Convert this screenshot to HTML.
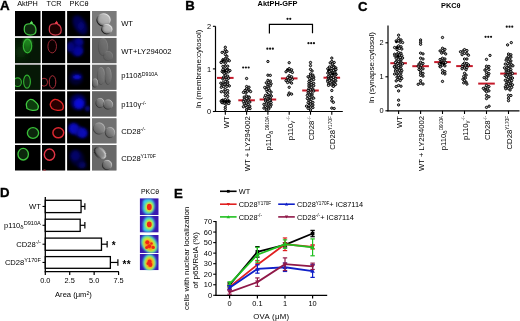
<!DOCTYPE html>
<html><head><meta charset="utf-8"><title>Figure</title>
<style>
html,body{margin:0;padding:0;background:#fff;}
body{width:520px;height:321px;overflow:hidden;}
svg{display:block;will-change:transform;font-family:"Liberation Sans", sans-serif;}
</style></head><body>
<svg width="520" height="321" viewBox="0 0 520 321">
<rect width="520" height="321" fill="#fff"/>
<text x="0.10" y="9.70" font-size="13.4" text-anchor="start" font-weight="bold" fill="#000" stroke="#000" stroke-width="0.35">A</text>
<text x="185.30" y="9.70" font-size="13.2" text-anchor="start" font-weight="bold" fill="#000" stroke="#000" stroke-width="0.35">B</text>
<text x="358.00" y="10.50" font-size="13.2" text-anchor="start" font-weight="bold" fill="#000" stroke="#000" stroke-width="0.35">C</text>
<text x="0.10" y="197.20" font-size="13.2" text-anchor="start" font-weight="bold" fill="#000" stroke="#000" stroke-width="0.35">D</text>
<text x="173.90" y="197.70" font-size="13.2" text-anchor="start" font-weight="bold" fill="#000" stroke="#000" stroke-width="0.35">E</text>
<text x="17.20" y="6.30" font-size="7.3" text-anchor="start" fill="#000">AktPH</text>
<text x="46.60" y="6.30" font-size="7.3" text-anchor="start" fill="#000">TCR</text>
<text x="69.60" y="6.30" font-size="7.3" text-anchor="start" fill="#000">PKC&#952;</text>
<defs><filter id="b1" x="-50%" y="-50%" width="200%" height="200%"><feGaussianBlur stdDeviation="0.45"/></filter><filter id="b2" x="-50%" y="-50%" width="200%" height="200%"><feGaussianBlur stdDeviation="1.6"/></filter><filter id="b3" x="-50%" y="-50%" width="200%" height="200%"><feGaussianBlur stdDeviation="3"/></filter><filter id="b4" x="-50%" y="-50%" width="200%" height="200%"><feGaussianBlur stdDeviation="0.9"/></filter><filter id="b5" x="-50%" y="-50%" width="200%" height="200%"><feGaussianBlur stdDeviation="0.45"/></filter><linearGradient id="dicg" x1="1" y1="0" x2="0" y2="1"><stop offset="0" stop-color="#ffffff" stop-opacity="0.95"/><stop offset="0.45" stop-color="#c0c0c0" stop-opacity="0.5"/><stop offset="0.6" stop-color="#606060" stop-opacity="0.4"/><stop offset="1" stop-color="#000000" stop-opacity="0.95"/></linearGradient><linearGradient id="dics" x1="1" y1="0" x2="0" y2="1"><stop offset="0" stop-color="#ffffff" stop-opacity="0.9"/><stop offset="0.4" stop-color="#ffffff" stop-opacity="0.2"/><stop offset="0.55" stop-color="#000" stop-opacity="0.2"/><stop offset="1" stop-color="#000" stop-opacity="1"/></linearGradient></defs>
<clipPath id="c00"><rect x="15" y="11" width="25.50" height="25.20"/></clipPath>
<rect x="15" y="11" width="25.50" height="25.20" fill="#000"/>
<clipPath id="c01"><rect x="42" y="11" width="23.20" height="25.20"/></clipPath>
<rect x="42" y="11" width="23.20" height="25.20" fill="#000"/>
<clipPath id="c02"><rect x="67.1" y="11" width="23.00" height="25.20"/></clipPath>
<rect x="67.1" y="11" width="23.00" height="25.20" fill="#000"/>
<clipPath id="c03"><rect x="92" y="11" width="24.50" height="25.20"/></clipPath>
<rect x="92" y="11" width="24.50" height="25.20" fill="#7e7e7e"/>
<clipPath id="c10"><rect x="15" y="37.9" width="25.50" height="25.30"/></clipPath>
<rect x="15" y="37.9" width="25.50" height="25.30" fill="#000"/>
<clipPath id="c11"><rect x="42" y="37.9" width="23.20" height="25.30"/></clipPath>
<rect x="42" y="37.9" width="23.20" height="25.30" fill="#000"/>
<clipPath id="c12"><rect x="67.1" y="37.9" width="23.00" height="25.30"/></clipPath>
<rect x="67.1" y="37.9" width="23.00" height="25.30" fill="#000"/>
<clipPath id="c13"><rect x="92" y="37.9" width="24.50" height="25.30"/></clipPath>
<rect x="92" y="37.9" width="24.50" height="25.30" fill="#7e7e7e"/>
<clipPath id="c20"><rect x="15" y="64.7" width="25.50" height="25.10"/></clipPath>
<rect x="15" y="64.7" width="25.50" height="25.10" fill="#000"/>
<clipPath id="c21"><rect x="42" y="64.7" width="23.20" height="25.10"/></clipPath>
<rect x="42" y="64.7" width="23.20" height="25.10" fill="#000"/>
<clipPath id="c22"><rect x="67.1" y="64.7" width="23.00" height="25.10"/></clipPath>
<rect x="67.1" y="64.7" width="23.00" height="25.10" fill="#000"/>
<clipPath id="c23"><rect x="92" y="64.7" width="24.50" height="25.10"/></clipPath>
<rect x="92" y="64.7" width="24.50" height="25.10" fill="#7e7e7e"/>
<clipPath id="c30"><rect x="15" y="91.3" width="25.50" height="25.30"/></clipPath>
<rect x="15" y="91.3" width="25.50" height="25.30" fill="#000"/>
<clipPath id="c31"><rect x="42" y="91.3" width="23.20" height="25.30"/></clipPath>
<rect x="42" y="91.3" width="23.20" height="25.30" fill="#000"/>
<clipPath id="c32"><rect x="67.1" y="91.3" width="23.00" height="25.30"/></clipPath>
<rect x="67.1" y="91.3" width="23.00" height="25.30" fill="#000"/>
<clipPath id="c33"><rect x="92" y="91.3" width="24.50" height="25.30"/></clipPath>
<rect x="92" y="91.3" width="24.50" height="25.30" fill="#7e7e7e"/>
<clipPath id="c40"><rect x="15" y="118.3" width="25.50" height="25.10"/></clipPath>
<rect x="15" y="118.3" width="25.50" height="25.10" fill="#000"/>
<clipPath id="c41"><rect x="42" y="118.3" width="23.20" height="25.10"/></clipPath>
<rect x="42" y="118.3" width="23.20" height="25.10" fill="#000"/>
<clipPath id="c42"><rect x="67.1" y="118.3" width="23.00" height="25.10"/></clipPath>
<rect x="67.1" y="118.3" width="23.00" height="25.10" fill="#000"/>
<clipPath id="c43"><rect x="92" y="118.3" width="24.50" height="25.10"/></clipPath>
<rect x="92" y="118.3" width="24.50" height="25.10" fill="#7e7e7e"/>
<clipPath id="c50"><rect x="15" y="145" width="25.50" height="25.50"/></clipPath>
<rect x="15" y="145" width="25.50" height="25.50" fill="#000"/>
<clipPath id="c51"><rect x="42" y="145" width="23.20" height="25.50"/></clipPath>
<rect x="42" y="145" width="23.20" height="25.50" fill="#000"/>
<clipPath id="c52"><rect x="67.1" y="145" width="23.00" height="25.50"/></clipPath>
<rect x="67.1" y="145" width="23.00" height="25.50" fill="#000"/>
<clipPath id="c53"><rect x="92" y="145" width="24.50" height="25.50"/></clipPath>
<rect x="92" y="145" width="24.50" height="25.50" fill="#7e7e7e"/>
<g clip-path="url(#c00)">
<path d="M24.3,28.5 C24.3,25.5 25.8,24 28.5,23.9 L30.6,23.6 L31.6,21.9 L32.6,24.1 C35,25.2 36,27.6 36,30.2 C36,33.2 33.8,35 30.3,35 C26.8,35 24.3,33 24.3,30 Z" fill="#0a2c0a" stroke="#44c444" stroke-width="1.25" filter="url(#b1)"/>
<ellipse cx="31.4" cy="23.0" rx="1.2" ry="1.3" transform="rotate(0 31.4 23.0)" fill="#60e060" filter="url(#b1)"/>
</g>
<g clip-path="url(#c10)">
<rect x="15" y="37.9" width="25.5" height="25.3" fill="#061806"/>
<ellipse cx="21.0" cy="52.0" rx="5" ry="6" transform="rotate(0 21.0 52.0)" fill="#104010" opacity="0.8" filter="url(#b3)"/>
<ellipse cx="27.5" cy="42.5" rx="3.8" ry="3.8" transform="rotate(0 27.5 42.5)" fill="#38b838" opacity="0.9" filter="url(#b2)"/>
<ellipse cx="27.5" cy="46.0" rx="4.2" ry="6.8" transform="rotate(0 27.5 46.0)" fill="#1a7a1a" fill-opacity="0.85" filter="url(#b4)"/>
<ellipse cx="27.5" cy="46.0" rx="4.2" ry="6.8" transform="rotate(0 27.5 46.0)" fill="none" stroke="#38c038" stroke-opacity="0.90" stroke-width="1.17" filter="url(#b1)"/>
</g>
<g clip-path="url(#c20)">
<rect x="15" y="64.7" width="25.5" height="25.1" fill="#061806"/>
<ellipse cx="17.6" cy="82.2" rx="3.8" ry="4.3" transform="rotate(0 17.6 82.2)" fill="#0c3a0c" fill-opacity="0.70" filter="url(#b4)"/>
<ellipse cx="17.6" cy="82.2" rx="3.8" ry="4.3" transform="rotate(0 17.6 82.2)" fill="none" stroke="#34b834" stroke-opacity="0.90" stroke-width="1.17" filter="url(#b1)"/>
<ellipse cx="27.0" cy="81.7" rx="3.4" ry="6.5" transform="rotate(0 27.0 81.7)" fill="#0c3a0c" fill-opacity="0.70" filter="url(#b4)"/>
<ellipse cx="27.0" cy="81.7" rx="3.4" ry="6.5" transform="rotate(0 27.0 81.7)" fill="none" stroke="#34b834" stroke-opacity="0.90" stroke-width="1.17" filter="url(#b1)"/>
</g>
<g clip-path="url(#c30)">
<path d="M26.5,106 C25.5,103 28,100 30,99.5 C33,99 34,100.5 35.5,102 C38,104 39,107 37.5,109.5 C35,111 30,110.5 27,108.5 Z" fill="#0c3a0c" stroke="#40c840" stroke-width="1.25" filter="url(#b1)"/>
</g>
<g clip-path="url(#c40)">
<ellipse cx="33.0" cy="133.0" rx="5.6" ry="5.4" transform="rotate(0 33.0 133.0)" fill="#0a300a" fill-opacity="0.85" filter="url(#b4)"/>
<ellipse cx="33.0" cy="133.0" rx="5.6" ry="5.4" transform="rotate(0 33.0 133.0)" fill="none" stroke="#3cc83c" stroke-opacity="0.95" stroke-width="1.33" filter="url(#b1)"/>
</g>
<g clip-path="url(#c50)">
<ellipse cx="23.2" cy="154.2" rx="5.2" ry="5.8" transform="rotate(0 23.2 154.2)" fill="#0a300a" fill-opacity="0.85" filter="url(#b4)"/>
<ellipse cx="23.2" cy="154.2" rx="5.2" ry="5.8" transform="rotate(0 23.2 154.2)" fill="none" stroke="#40cc40" stroke-opacity="0.95" stroke-width="1.33" filter="url(#b1)"/>
</g>
<g clip-path="url(#c01)">
<path d="M49.3,28.5 C49.3,25.5 50.8,24 53.5,23.9 L55.6,23.6 L56.6,21.9 L57.6,24.1 C60,25.2 61.2,27.6 61.2,30.2 C61.2,33.2 59,35 55.3,35 C51.8,35 49.3,33 49.3,30 Z" fill="#1c0406" stroke="#d03848" stroke-width="1.25" filter="url(#b1)"/>
<ellipse cx="56.4" cy="23.0" rx="1.2" ry="1.3" transform="rotate(0 56.4 23.0)" fill="#f04050" filter="url(#b1)"/>
</g>
<g clip-path="url(#c11)">
<ellipse cx="52.2" cy="46.3" rx="4.3" ry="6.6" transform="rotate(0 52.2 46.3)" fill="#1a0303" fill-opacity="0.50" filter="url(#b4)"/>
<ellipse cx="52.2" cy="46.3" rx="4.3" ry="6.6" transform="rotate(0 52.2 46.3)" fill="none" stroke="#b83040" stroke-opacity="0.85" stroke-width="0.95" filter="url(#b1)"/>
</g>
<g clip-path="url(#c21)">
<ellipse cx="44.0" cy="82.2" rx="3.6" ry="4.0" transform="rotate(0 44.0 82.2)" fill="none" stroke="#b83038" stroke-opacity="0.90" stroke-width="0.95" filter="url(#b1)"/>
<ellipse cx="52.5" cy="82.0" rx="3.3" ry="6.3" transform="rotate(0 52.5 82.0)" fill="none" stroke="#c03440" stroke-opacity="0.95" stroke-width="0.95" filter="url(#b1)"/>
</g>
<g clip-path="url(#c31)">
<path d="M50.5,106 C49.5,103 52,100 54.5,99.5 C57.5,99 59,100.5 61,102 C63.5,104 64,107.5 62.5,109.5 C60,111 55,110.5 52,108.5 Z" fill="#2a0404" stroke="#e02424" stroke-width="1.35" filter="url(#b1)"/>
</g>
<g clip-path="url(#c41)">
<ellipse cx="58.3" cy="132.8" rx="5.4" ry="5.0" transform="rotate(0 58.3 132.8)" fill="#2a0303" fill-opacity="0.60" filter="url(#b4)"/>
<ellipse cx="58.3" cy="132.8" rx="5.4" ry="5.0" transform="rotate(0 58.3 132.8)" fill="none" stroke="#dc2830" stroke-opacity="1.00" stroke-width="1.48" filter="url(#b1)"/>
</g>
<g clip-path="url(#c51)">
<ellipse cx="49.5" cy="154.6" rx="5.2" ry="5.6" transform="rotate(0 49.5 154.6)" fill="#200303" fill-opacity="0.50" filter="url(#b4)"/>
<ellipse cx="49.5" cy="154.6" rx="5.2" ry="5.6" transform="rotate(0 49.5 154.6)" fill="none" stroke="#e03444" stroke-opacity="1.00" stroke-width="1.45" filter="url(#b1)"/>
<ellipse cx="44.5" cy="170.5" rx="1.5" ry="1" transform="rotate(0 44.5 170.5)" fill="#c03040" filter="url(#b1)"/>
</g>
<g clip-path="url(#c02)">
<ellipse cx="80.0" cy="25.0" rx="6" ry="10.5" transform="rotate(-30 80.0 25.0)" fill="#05056e" opacity="0.76" filter="url(#b2)"/>
<ellipse cx="81.0" cy="26.0" rx="3" ry="4" transform="rotate(0 81.0 26.0)" fill="#09099e" opacity="0.48" filter="url(#b2)"/>
</g>
<g clip-path="url(#c12)">
<ellipse cx="78.0" cy="51.0" rx="5" ry="5" transform="rotate(0 78.0 51.0)" fill="#0c0cdc" opacity="0.80" filter="url(#b2)"/>
<ellipse cx="79.0" cy="42.0" rx="4.5" ry="4" transform="rotate(0 79.0 42.0)" fill="#0909c1" opacity="0.72" filter="url(#b2)"/>
<ellipse cx="70.5" cy="47.0" rx="4" ry="5" transform="rotate(0 70.5 47.0)" fill="#0909b0" opacity="0.68" filter="url(#b2)"/>
<ellipse cx="76.0" cy="47.0" rx="7" ry="9" transform="rotate(0 76.0 47.0)" fill="#060686" opacity="0.56" filter="url(#b2)"/>
</g>
<g clip-path="url(#c22)">
<ellipse cx="76.0" cy="78.0" rx="7" ry="7" transform="rotate(0 76.0 78.0)" fill="#040458" opacity="0.56" filter="url(#b2)"/>
<ellipse cx="77.0" cy="77.0" rx="4.5" ry="1.8" transform="rotate(0 77.0 77.0)" fill="#1010ff" opacity="0.80" filter="url(#b2)"/>
<ellipse cx="77.0" cy="77.0" rx="3" ry="1.2" transform="rotate(0 77.0 77.0)" fill="#1414ff" opacity="0.80" filter="url(#b2)"/>
</g>
<g clip-path="url(#c32)">
<ellipse cx="78.0" cy="102.0" rx="8" ry="8" transform="rotate(0 78.0 102.0)" fill="#06068a" opacity="0.64" filter="url(#b2)"/>
<ellipse cx="79.0" cy="103.5" rx="5.2" ry="5.2" transform="rotate(0 79.0 103.5)" fill="#1010f8" opacity="0.80" filter="url(#b2)"/>
<ellipse cx="87.5" cy="108.5" rx="2.5" ry="2.5" transform="rotate(0 87.5 108.5)" fill="#0c0cd0" opacity="0.72" filter="url(#b2)"/>
</g>
<g clip-path="url(#c42)">
<ellipse cx="73.5" cy="128.5" rx="5" ry="5.5" transform="rotate(0 73.5 128.5)" fill="#0e0ef6" opacity="0.80" filter="url(#b2)"/>
<ellipse cx="82.5" cy="133.0" rx="5" ry="5" transform="rotate(0 82.5 133.0)" fill="#0e0eed" opacity="0.80" filter="url(#b2)"/>
<ellipse cx="78.0" cy="131.0" rx="9" ry="5" transform="rotate(30 78.0 131.0)" fill="#0808b0" opacity="0.64" filter="url(#b2)"/>
</g>
<g clip-path="url(#c52)">
<ellipse cx="75.5" cy="156.0" rx="4.5" ry="5" transform="rotate(0 75.5 156.0)" fill="#0909c1" opacity="0.68" filter="url(#b2)"/>
<ellipse cx="82.0" cy="165.0" rx="4" ry="3.5" transform="rotate(0 82.0 165.0)" fill="#07079c" opacity="0.64" filter="url(#b2)"/>
<ellipse cx="77.0" cy="158.0" rx="7" ry="9" transform="rotate(-30 77.0 158.0)" fill="#040458" opacity="0.56" filter="url(#b2)"/>
</g>
<g clip-path="url(#c03)">
<rect x="92" y="11" width="24.50" height="25.20" fill="#7a7a7a"/>
<ellipse cx="103.5" cy="19.9" rx="7" ry="6.5" transform="rotate(0 103.5 19.9)" fill="url(#dicg)" opacity="1.00" filter="url(#b5)"/>
<ellipse cx="103.8" cy="19.6" rx="5.8" ry="5.3" transform="rotate(0 103.8 19.6)" fill="#b8b8b8" fill-opacity="0.80" filter="url(#b4)"/>
<ellipse cx="103.5" cy="19.9" rx="6.7" ry="6.2" transform="rotate(0 103.5 19.9)" fill="none" stroke="url(#dics)" stroke-width="1.0" opacity="1.00" filter="url(#b5)"/>
<ellipse cx="106.8" cy="29.2" rx="5.5" ry="5" transform="rotate(0 106.8 29.2)" fill="url(#dicg)" opacity="1.00" filter="url(#b5)"/>
<ellipse cx="107.1" cy="28.9" rx="4.3" ry="3.8" transform="rotate(0 107.1 28.9)" fill="#b8b8b8" fill-opacity="0.80" filter="url(#b4)"/>
<ellipse cx="106.8" cy="29.2" rx="5.2" ry="4.7" transform="rotate(0 106.8 29.2)" fill="none" stroke="url(#dics)" stroke-width="1.0" opacity="1.00" filter="url(#b5)"/>
</g>
<g clip-path="url(#c13)">
<rect x="92" y="37.9" width="24.50" height="25.30" fill="#626262"/>
<ellipse cx="103.0" cy="47.0" rx="5" ry="9" transform="rotate(0 103.0 47.0)" fill="url(#dicg)" opacity="0.15" filter="url(#b5)"/>
<ellipse cx="103.3" cy="46.7" rx="3.8" ry="7.8" transform="rotate(0 103.3 46.7)" fill="#808080" fill-opacity="0.12" filter="url(#b4)"/>
<ellipse cx="103.0" cy="47.0" rx="4.7" ry="8.7" transform="rotate(0 103.0 47.0)" fill="none" stroke="url(#dics)" stroke-width="1.0" opacity="0.15" filter="url(#b5)"/>
<ellipse cx="108.0" cy="56.0" rx="5" ry="5" transform="rotate(0 108.0 56.0)" fill="url(#dicg)" opacity="0.15" filter="url(#b5)"/>
<ellipse cx="108.3" cy="55.7" rx="3.8" ry="3.8" transform="rotate(0 108.3 55.7)" fill="#808080" fill-opacity="0.12" filter="url(#b4)"/>
<ellipse cx="108.0" cy="56.0" rx="4.7" ry="4.7" transform="rotate(0 108.0 56.0)" fill="none" stroke="url(#dics)" stroke-width="1.0" opacity="0.15" filter="url(#b5)"/>
</g>
<g clip-path="url(#c23)">
<rect x="92" y="64.7" width="24.50" height="25.10" fill="#666666"/>
<ellipse cx="101.0" cy="76.0" rx="4" ry="9" transform="rotate(0 101.0 76.0)" fill="url(#dicg)" opacity="0.22" filter="url(#b5)"/>
<ellipse cx="101.3" cy="75.7" rx="2.8" ry="7.8" transform="rotate(0 101.3 75.7)" fill="#808080" fill-opacity="0.18" filter="url(#b4)"/>
<ellipse cx="101.0" cy="76.0" rx="3.7" ry="8.7" transform="rotate(0 101.0 76.0)" fill="none" stroke="url(#dics)" stroke-width="1.0" opacity="0.22" filter="url(#b5)"/>
<ellipse cx="108.0" cy="76.0" rx="3.5" ry="9" transform="rotate(0 108.0 76.0)" fill="url(#dicg)" opacity="0.22" filter="url(#b5)"/>
<ellipse cx="108.3" cy="75.7" rx="2.3" ry="7.8" transform="rotate(0 108.3 75.7)" fill="#808080" fill-opacity="0.18" filter="url(#b4)"/>
<ellipse cx="108.0" cy="76.0" rx="3.2" ry="8.7" transform="rotate(0 108.0 76.0)" fill="none" stroke="url(#dics)" stroke-width="1.0" opacity="0.22" filter="url(#b5)"/>
<ellipse cx="95.0" cy="83.0" rx="3" ry="4.5" transform="rotate(0 95.0 83.0)" fill="url(#dicg)" opacity="0.40" filter="url(#b5)"/>
<ellipse cx="95.3" cy="82.7" rx="1.8" ry="3.3" transform="rotate(0 95.3 82.7)" fill="#808080" fill-opacity="0.32" filter="url(#b4)"/>
<ellipse cx="95.0" cy="83.0" rx="2.7" ry="4.2" transform="rotate(0 95.0 83.0)" fill="none" stroke="url(#dics)" stroke-width="1.0" opacity="0.40" filter="url(#b5)"/>
</g>
<g clip-path="url(#c33)">
<rect x="92" y="91.3" width="24.50" height="25.30" fill="#656565"/>
<ellipse cx="100.0" cy="103.0" rx="4.5" ry="5" transform="rotate(0 100.0 103.0)" fill="url(#dicg)" opacity="0.50" filter="url(#b5)"/>
<ellipse cx="100.3" cy="102.7" rx="3.3" ry="3.8" transform="rotate(0 100.3 102.7)" fill="#808080" fill-opacity="0.40" filter="url(#b4)"/>
<ellipse cx="100.0" cy="103.0" rx="4.2" ry="4.7" transform="rotate(0 100.0 103.0)" fill="none" stroke="url(#dics)" stroke-width="1.0" opacity="0.50" filter="url(#b5)"/>
<ellipse cx="108.0" cy="104.5" rx="5" ry="5" transform="rotate(0 108.0 104.5)" fill="url(#dicg)" opacity="0.50" filter="url(#b5)"/>
<ellipse cx="108.3" cy="104.2" rx="3.8" ry="3.8" transform="rotate(0 108.3 104.2)" fill="#808080" fill-opacity="0.40" filter="url(#b4)"/>
<ellipse cx="108.0" cy="104.5" rx="4.7" ry="4.7" transform="rotate(0 108.0 104.5)" fill="none" stroke="url(#dics)" stroke-width="1.0" opacity="0.50" filter="url(#b5)"/>
</g>
<g clip-path="url(#c43)">
<rect x="92" y="118.3" width="24.50" height="25.10" fill="#707070"/>
<ellipse cx="99.0" cy="128.5" rx="6" ry="6" transform="rotate(0 99.0 128.5)" fill="url(#dicg)" opacity="0.45" filter="url(#b5)"/>
<ellipse cx="99.3" cy="128.2" rx="4.8" ry="4.8" transform="rotate(0 99.3 128.2)" fill="#808080" fill-opacity="0.36" filter="url(#b4)"/>
<ellipse cx="99.0" cy="128.5" rx="5.7" ry="5.7" transform="rotate(0 99.0 128.5)" fill="none" stroke="url(#dics)" stroke-width="1.0" opacity="0.45" filter="url(#b5)"/>
<ellipse cx="110.0" cy="132.5" rx="5" ry="5.5" transform="rotate(0 110.0 132.5)" fill="url(#dicg)" opacity="0.50" filter="url(#b5)"/>
<ellipse cx="110.3" cy="132.2" rx="3.8" ry="4.3" transform="rotate(0 110.3 132.2)" fill="#808080" fill-opacity="0.40" filter="url(#b4)"/>
<ellipse cx="110.0" cy="132.5" rx="4.7" ry="5.2" transform="rotate(0 110.0 132.5)" fill="none" stroke="url(#dics)" stroke-width="1.0" opacity="0.50" filter="url(#b5)"/>
</g>
<g clip-path="url(#c53)">
<rect x="92" y="145" width="24.50" height="25.50" fill="#686868"/>
<ellipse cx="100.0" cy="153.0" rx="7" ry="4.5" transform="rotate(45 100.0 153.0)" fill="url(#dicg)" opacity="1.00" filter="url(#b5)"/>
<ellipse cx="100.3" cy="152.7" rx="5.8" ry="3.3" transform="rotate(45 100.3 152.7)" fill="#808080" fill-opacity="0.80" filter="url(#b4)"/>
<ellipse cx="100.0" cy="153.0" rx="6.7" ry="4.2" transform="rotate(45 100.0 153.0)" fill="none" stroke="url(#dics)" stroke-width="1.0" opacity="1.00" filter="url(#b5)"/>
<ellipse cx="107.0" cy="165.0" rx="5" ry="5" transform="rotate(0 107.0 165.0)" fill="url(#dicg)" opacity="0.70" filter="url(#b5)"/>
<ellipse cx="107.3" cy="164.7" rx="3.8" ry="3.8" transform="rotate(0 107.3 164.7)" fill="#808080" fill-opacity="0.56" filter="url(#b4)"/>
<ellipse cx="107.0" cy="165.0" rx="4.7" ry="4.7" transform="rotate(0 107.0 165.0)" fill="none" stroke="url(#dics)" stroke-width="1.0" opacity="0.70" filter="url(#b5)"/>
</g>
<text x="121.20" y="26.30" font-size="7.6" text-anchor="start" fill="#000">WT</text>
<text x="121.20" y="53.90" font-size="7.6" text-anchor="start" fill="#000">WT+LY294002</text>
<text x="121.20" y="78.10" font-size="7.6" text-anchor="start" fill="#000">p110&#948;<tspan dy="-2.5" font-size="5.2">D910A</tspan></text>
<text x="121.20" y="107.00" font-size="7.6" text-anchor="start" fill="#000">p110&#947;<tspan dy="-2.5" font-size="5.2">-/-</tspan></text>
<text x="121.20" y="133.90" font-size="7.6" text-anchor="start" fill="#000">CD28<tspan dy="-2.5" font-size="5.2">-/-</tspan></text>
<text x="121.20" y="160.60" font-size="7.6" text-anchor="start" fill="#000">CD28<tspan dy="-2.5" font-size="5.2">Y170F</tspan></text>
<text x="257.60" y="6.20" font-size="7.4" text-anchor="start" font-weight="bold" fill="#000">AktPH-GFP</text>
<text x="0.00" y="0.00" font-size="7.95" text-anchor="middle" fill="#000" transform="translate(201.40,68.80) rotate(-90)">ln (membrane:cytosol)</text>
<line x1="215.50" y1="26.30" x2="215.50" y2="112.00" stroke="#000" stroke-width="1.2"/>
<line x1="214.90" y1="111.50" x2="342.80" y2="111.50" stroke="#000" stroke-width="1.2"/>
<line x1="212.90" y1="111.50" x2="215.50" y2="111.50" stroke="#000" stroke-width="1.1"/>
<text x="211.20" y="114.10" font-size="7.4" text-anchor="end" fill="#000">0</text>
<line x1="212.90" y1="68.90" x2="215.50" y2="68.90" stroke="#000" stroke-width="1.1"/>
<text x="211.20" y="71.50" font-size="7.4" text-anchor="end" fill="#000">1</text>
<line x1="212.90" y1="26.30" x2="215.50" y2="26.30" stroke="#000" stroke-width="1.1"/>
<text x="211.20" y="28.90" font-size="7.4" text-anchor="end" fill="#000">2</text>
<line x1="217.00" y1="77.90" x2="233.60" y2="77.90" stroke="#c41a2a" stroke-width="2.0"/>
<line x1="238.30" y1="100.30" x2="254.90" y2="100.30" stroke="#c41a2a" stroke-width="2.0"/>
<line x1="259.60" y1="99.50" x2="276.20" y2="99.50" stroke="#c41a2a" stroke-width="2.0"/>
<line x1="280.90" y1="78.40" x2="297.50" y2="78.40" stroke="#c41a2a" stroke-width="2.0"/>
<line x1="302.20" y1="90.50" x2="318.80" y2="90.50" stroke="#c41a2a" stroke-width="2.0"/>
<line x1="323.50" y1="77.70" x2="340.10" y2="77.70" stroke="#c41a2a" stroke-width="2.0"/>
<circle cx="225.30" cy="47.25" r="1.15" fill="#c4c4c4" stroke="#000" stroke-width="1.0"/>
<circle cx="225.30" cy="49.75" r="1.15" fill="#c4c4c4" stroke="#000" stroke-width="1.0"/>
<circle cx="226.90" cy="51.61" r="1.15" fill="#c4c4c4" stroke="#000" stroke-width="1.0"/>
<circle cx="224.50" cy="51.88" r="1.15" fill="#c4c4c4" stroke="#000" stroke-width="1.0"/>
<circle cx="222.10" cy="52.38" r="1.15" fill="#c4c4c4" stroke="#000" stroke-width="1.0"/>
<circle cx="225.30" cy="54.50" r="1.15" fill="#c4c4c4" stroke="#000" stroke-width="1.0"/>
<circle cx="226.90" cy="56.25" r="1.15" fill="#c4c4c4" stroke="#000" stroke-width="1.0"/>
<circle cx="225.30" cy="58.54" r="1.15" fill="#c4c4c4" stroke="#000" stroke-width="1.0"/>
<circle cx="227.70" cy="59.27" r="1.15" fill="#c4c4c4" stroke="#000" stroke-width="1.0"/>
<circle cx="222.90" cy="59.68" r="1.15" fill="#c4c4c4" stroke="#000" stroke-width="1.0"/>
<circle cx="225.06" cy="60.03" r="1.15" fill="#c4c4c4" stroke="#000" stroke-width="1.0"/>
<circle cx="229.30" cy="60.75" r="1.15" fill="#c4c4c4" stroke="#000" stroke-width="1.0"/>
<circle cx="226.84" cy="61.02" r="1.15" fill="#c4c4c4" stroke="#000" stroke-width="1.0"/>
<circle cx="223.70" cy="61.72" r="1.15" fill="#c4c4c4" stroke="#000" stroke-width="1.0"/>
<circle cx="221.30" cy="62.03" r="1.15" fill="#c4c4c4" stroke="#000" stroke-width="1.0"/>
<circle cx="221.17" cy="62.55" r="1.15" fill="#c4c4c4" stroke="#000" stroke-width="1.0"/>
<circle cx="225.30" cy="63.21" r="1.15" fill="#c4c4c4" stroke="#000" stroke-width="1.0"/>
<circle cx="225.30" cy="66.14" r="1.15" fill="#c4c4c4" stroke="#000" stroke-width="1.0"/>
<circle cx="227.70" cy="66.19" r="1.15" fill="#c4c4c4" stroke="#000" stroke-width="1.0"/>
<circle cx="222.90" cy="66.37" r="1.15" fill="#c4c4c4" stroke="#000" stroke-width="1.0"/>
<circle cx="225.30" cy="68.76" r="1.15" fill="#c4c4c4" stroke="#000" stroke-width="1.0"/>
<circle cx="227.70" cy="69.31" r="1.15" fill="#c4c4c4" stroke="#000" stroke-width="1.0"/>
<circle cx="222.90" cy="69.57" r="1.15" fill="#c4c4c4" stroke="#000" stroke-width="1.0"/>
<circle cx="227.19" cy="69.92" r="1.15" fill="#c4c4c4" stroke="#000" stroke-width="1.0"/>
<circle cx="226.68" cy="70.57" r="1.15" fill="#c4c4c4" stroke="#000" stroke-width="1.0"/>
<circle cx="229.94" cy="70.60" r="1.15" fill="#c4c4c4" stroke="#000" stroke-width="1.0"/>
<circle cx="224.50" cy="71.36" r="1.15" fill="#c4c4c4" stroke="#000" stroke-width="1.0"/>
<circle cx="222.10" cy="71.54" r="1.15" fill="#c4c4c4" stroke="#000" stroke-width="1.0"/>
<circle cx="228.33" cy="71.89" r="1.15" fill="#c4c4c4" stroke="#000" stroke-width="1.0"/>
<circle cx="223.28" cy="72.30" r="1.15" fill="#c4c4c4" stroke="#000" stroke-width="1.0"/>
<circle cx="226.10" cy="72.80" r="1.15" fill="#c4c4c4" stroke="#000" stroke-width="1.0"/>
<circle cx="224.23" cy="73.42" r="1.15" fill="#c4c4c4" stroke="#000" stroke-width="1.0"/>
<circle cx="225.30" cy="75.25" r="1.15" fill="#c4c4c4" stroke="#000" stroke-width="1.0"/>
<circle cx="227.70" cy="76.12" r="1.15" fill="#c4c4c4" stroke="#000" stroke-width="1.0"/>
<circle cx="223.70" cy="77.05" r="1.15" fill="#c4c4c4" stroke="#000" stroke-width="1.0"/>
<circle cx="226.10" cy="77.76" r="1.15" fill="#c4c4c4" stroke="#000" stroke-width="1.0"/>
<circle cx="228.50" cy="78.25" r="1.15" fill="#c4c4c4" stroke="#000" stroke-width="1.0"/>
<circle cx="222.90" cy="79.03" r="1.15" fill="#c4c4c4" stroke="#000" stroke-width="1.0"/>
<circle cx="226.89" cy="79.38" r="1.15" fill="#c4c4c4" stroke="#000" stroke-width="1.0"/>
<circle cx="225.30" cy="81.53" r="1.15" fill="#c4c4c4" stroke="#000" stroke-width="1.0"/>
<circle cx="227.70" cy="82.10" r="1.15" fill="#c4c4c4" stroke="#000" stroke-width="1.0"/>
<circle cx="222.90" cy="82.84" r="1.15" fill="#c4c4c4" stroke="#000" stroke-width="1.0"/>
<circle cx="220.81" cy="83.21" r="1.15" fill="#c4c4c4" stroke="#000" stroke-width="1.0"/>
<circle cx="225.30" cy="83.66" r="1.15" fill="#c4c4c4" stroke="#000" stroke-width="1.0"/>
<circle cx="227.70" cy="84.29" r="1.15" fill="#c4c4c4" stroke="#000" stroke-width="1.0"/>
<circle cx="224.94" cy="84.73" r="1.15" fill="#c4c4c4" stroke="#000" stroke-width="1.0"/>
<circle cx="222.10" cy="85.15" r="1.15" fill="#c4c4c4" stroke="#000" stroke-width="1.0"/>
<circle cx="229.30" cy="85.90" r="1.15" fill="#c4c4c4" stroke="#000" stroke-width="1.0"/>
<circle cx="226.90" cy="86.35" r="1.15" fill="#c4c4c4" stroke="#000" stroke-width="1.0"/>
<circle cx="223.70" cy="86.62" r="1.15" fill="#c4c4c4" stroke="#000" stroke-width="1.0"/>
<circle cx="221.30" cy="87.29" r="1.15" fill="#c4c4c4" stroke="#000" stroke-width="1.0"/>
<circle cx="225.30" cy="89.44" r="1.15" fill="#c4c4c4" stroke="#000" stroke-width="1.0"/>
<circle cx="227.70" cy="90.56" r="1.15" fill="#c4c4c4" stroke="#000" stroke-width="1.0"/>
<circle cx="223.70" cy="91.27" r="1.15" fill="#c4c4c4" stroke="#000" stroke-width="1.0"/>
<circle cx="221.30" cy="91.74" r="1.15" fill="#c4c4c4" stroke="#000" stroke-width="1.0"/>
<circle cx="225.30" cy="93.15" r="1.15" fill="#c4c4c4" stroke="#000" stroke-width="1.0"/>
<circle cx="227.70" cy="93.27" r="1.15" fill="#c4c4c4" stroke="#000" stroke-width="1.0"/>
<circle cx="225.30" cy="95.71" r="1.15" fill="#c4c4c4" stroke="#000" stroke-width="1.0"/>
<circle cx="227.70" cy="96.38" r="1.15" fill="#c4c4c4" stroke="#000" stroke-width="1.0"/>
<circle cx="225.30" cy="99.54" r="1.15" fill="#c4c4c4" stroke="#000" stroke-width="1.0"/>
<circle cx="227.70" cy="99.93" r="1.15" fill="#c4c4c4" stroke="#000" stroke-width="1.0"/>
<circle cx="222.90" cy="100.08" r="1.15" fill="#c4c4c4" stroke="#000" stroke-width="1.0"/>
<circle cx="222.18" cy="100.55" r="1.15" fill="#c4c4c4" stroke="#000" stroke-width="1.0"/>
<circle cx="221.70" cy="100.86" r="1.15" fill="#c4c4c4" stroke="#000" stroke-width="1.0"/>
<circle cx="221.15" cy="101.09" r="1.15" fill="#c4c4c4" stroke="#000" stroke-width="1.0"/>
<circle cx="229.30" cy="101.46" r="1.15" fill="#c4c4c4" stroke="#000" stroke-width="1.0"/>
<circle cx="226.10" cy="101.59" r="1.15" fill="#c4c4c4" stroke="#000" stroke-width="1.0"/>
<circle cx="227.82" cy="101.98" r="1.15" fill="#c4c4c4" stroke="#000" stroke-width="1.0"/>
<circle cx="223.70" cy="102.24" r="1.15" fill="#c4c4c4" stroke="#000" stroke-width="1.0"/>
<circle cx="221.82" cy="102.52" r="1.15" fill="#c4c4c4" stroke="#000" stroke-width="1.0"/>
<circle cx="222.93" cy="102.77" r="1.15" fill="#c4c4c4" stroke="#000" stroke-width="1.0"/>
<circle cx="224.27" cy="103.17" r="1.15" fill="#c4c4c4" stroke="#000" stroke-width="1.0"/>
<circle cx="228.79" cy="103.48" r="1.15" fill="#c4c4c4" stroke="#000" stroke-width="1.0"/>
<circle cx="226.10" cy="104.25" r="1.15" fill="#c4c4c4" stroke="#000" stroke-width="1.0"/>
<circle cx="225.30" cy="107.25" r="1.15" fill="#c4c4c4" stroke="#000" stroke-width="1.0"/>
<circle cx="225.30" cy="109.45" r="1.15" fill="#c4c4c4" stroke="#000" stroke-width="1.0"/>
<circle cx="223.50" cy="101.50" r="1.3" fill="#000"/>
<circle cx="226.00" cy="101.80" r="1.3" fill="#000"/>
<circle cx="228.50" cy="101.30" r="1.3" fill="#000"/>
<circle cx="225.00" cy="71.00" r="1.3" fill="#000"/>
<circle cx="223.00" cy="60.50" r="1.3" fill="#000"/>
<circle cx="246.60" cy="78.50" r="1.15" fill="#c4c4c4" stroke="#000" stroke-width="1.0"/>
<circle cx="246.60" cy="86.54" r="1.15" fill="#c4c4c4" stroke="#000" stroke-width="1.0"/>
<circle cx="249.00" cy="87.22" r="1.15" fill="#c4c4c4" stroke="#000" stroke-width="1.0"/>
<circle cx="246.60" cy="88.89" r="1.15" fill="#c4c4c4" stroke="#000" stroke-width="1.0"/>
<circle cx="249.00" cy="89.85" r="1.15" fill="#c4c4c4" stroke="#000" stroke-width="1.0"/>
<circle cx="245.00" cy="90.51" r="1.15" fill="#c4c4c4" stroke="#000" stroke-width="1.0"/>
<circle cx="247.40" cy="91.26" r="1.15" fill="#c4c4c4" stroke="#000" stroke-width="1.0"/>
<circle cx="250.60" cy="91.56" r="1.15" fill="#c4c4c4" stroke="#000" stroke-width="1.0"/>
<circle cx="243.40" cy="92.37" r="1.15" fill="#c4c4c4" stroke="#000" stroke-width="1.0"/>
<circle cx="245.80" cy="93.04" r="1.15" fill="#c4c4c4" stroke="#000" stroke-width="1.0"/>
<circle cx="246.60" cy="96.14" r="1.15" fill="#c4c4c4" stroke="#000" stroke-width="1.0"/>
<circle cx="249.00" cy="96.92" r="1.15" fill="#c4c4c4" stroke="#000" stroke-width="1.0"/>
<circle cx="244.20" cy="97.06" r="1.15" fill="#c4c4c4" stroke="#000" stroke-width="1.0"/>
<circle cx="249.23" cy="97.80" r="1.15" fill="#c4c4c4" stroke="#000" stroke-width="1.0"/>
<circle cx="246.60" cy="98.57" r="1.15" fill="#c4c4c4" stroke="#000" stroke-width="1.0"/>
<circle cx="244.20" cy="99.29" r="1.15" fill="#c4c4c4" stroke="#000" stroke-width="1.0"/>
<circle cx="248.20" cy="100.20" r="1.15" fill="#c4c4c4" stroke="#000" stroke-width="1.0"/>
<circle cx="245.80" cy="101.00" r="1.15" fill="#c4c4c4" stroke="#000" stroke-width="1.0"/>
<circle cx="243.40" cy="101.49" r="1.15" fill="#c4c4c4" stroke="#000" stroke-width="1.0"/>
<circle cx="249.80" cy="102.03" r="1.15" fill="#c4c4c4" stroke="#000" stroke-width="1.0"/>
<circle cx="246.60" cy="103.05" r="1.15" fill="#c4c4c4" stroke="#000" stroke-width="1.0"/>
<circle cx="244.20" cy="103.74" r="1.15" fill="#c4c4c4" stroke="#000" stroke-width="1.0"/>
<circle cx="248.20" cy="104.61" r="1.15" fill="#c4c4c4" stroke="#000" stroke-width="1.0"/>
<circle cx="245.80" cy="105.62" r="1.15" fill="#c4c4c4" stroke="#000" stroke-width="1.0"/>
<circle cx="249.80" cy="106.15" r="1.15" fill="#c4c4c4" stroke="#000" stroke-width="1.0"/>
<circle cx="243.40" cy="106.75" r="1.15" fill="#c4c4c4" stroke="#000" stroke-width="1.0"/>
<circle cx="246.60" cy="107.55" r="1.15" fill="#c4c4c4" stroke="#000" stroke-width="1.0"/>
<circle cx="249.00" cy="108.32" r="1.15" fill="#c4c4c4" stroke="#000" stroke-width="1.0"/>
<circle cx="250.12" cy="108.59" r="1.15" fill="#c4c4c4" stroke="#000" stroke-width="1.0"/>
<circle cx="246.60" cy="109.93" r="1.15" fill="#c4c4c4" stroke="#000" stroke-width="1.0"/>
<circle cx="267.90" cy="61.50" r="1.15" fill="#c4c4c4" stroke="#000" stroke-width="1.0"/>
<circle cx="267.90" cy="75.20" r="1.15" fill="#c4c4c4" stroke="#000" stroke-width="1.0"/>
<circle cx="270.30" cy="75.35" r="1.15" fill="#c4c4c4" stroke="#000" stroke-width="1.0"/>
<circle cx="267.90" cy="80.37" r="1.15" fill="#c4c4c4" stroke="#000" stroke-width="1.0"/>
<circle cx="270.30" cy="81.02" r="1.15" fill="#c4c4c4" stroke="#000" stroke-width="1.0"/>
<circle cx="268.70" cy="82.45" r="1.15" fill="#c4c4c4" stroke="#000" stroke-width="1.0"/>
<circle cx="266.30" cy="82.84" r="1.15" fill="#c4c4c4" stroke="#000" stroke-width="1.0"/>
<circle cx="271.10" cy="83.78" r="1.15" fill="#c4c4c4" stroke="#000" stroke-width="1.0"/>
<circle cx="267.90" cy="84.84" r="1.15" fill="#c4c4c4" stroke="#000" stroke-width="1.0"/>
<circle cx="270.30" cy="85.72" r="1.15" fill="#c4c4c4" stroke="#000" stroke-width="1.0"/>
<circle cx="267.10" cy="86.82" r="1.15" fill="#c4c4c4" stroke="#000" stroke-width="1.0"/>
<circle cx="264.70" cy="87.48" r="1.15" fill="#c4c4c4" stroke="#000" stroke-width="1.0"/>
<circle cx="268.70" cy="88.36" r="1.15" fill="#c4c4c4" stroke="#000" stroke-width="1.0"/>
<circle cx="266.30" cy="89.43" r="1.15" fill="#c4c4c4" stroke="#000" stroke-width="1.0"/>
<circle cx="269.50" cy="90.31" r="1.15" fill="#c4c4c4" stroke="#000" stroke-width="1.0"/>
<circle cx="267.10" cy="91.48" r="1.15" fill="#c4c4c4" stroke="#000" stroke-width="1.0"/>
<circle cx="271.10" cy="92.10" r="1.15" fill="#c4c4c4" stroke="#000" stroke-width="1.0"/>
<circle cx="267.90" cy="94.56" r="1.15" fill="#c4c4c4" stroke="#000" stroke-width="1.0"/>
<circle cx="270.30" cy="95.03" r="1.15" fill="#c4c4c4" stroke="#000" stroke-width="1.0"/>
<circle cx="265.50" cy="95.38" r="1.15" fill="#c4c4c4" stroke="#000" stroke-width="1.0"/>
<circle cx="271.32" cy="96.08" r="1.15" fill="#c4c4c4" stroke="#000" stroke-width="1.0"/>
<circle cx="267.90" cy="96.78" r="1.15" fill="#c4c4c4" stroke="#000" stroke-width="1.0"/>
<circle cx="264.70" cy="97.43" r="1.15" fill="#c4c4c4" stroke="#000" stroke-width="1.0"/>
<circle cx="270.30" cy="97.92" r="1.15" fill="#c4c4c4" stroke="#000" stroke-width="1.0"/>
<circle cx="267.90" cy="99.02" r="1.15" fill="#c4c4c4" stroke="#000" stroke-width="1.0"/>
<circle cx="265.50" cy="99.76" r="1.15" fill="#c4c4c4" stroke="#000" stroke-width="1.0"/>
<circle cx="270.30" cy="100.06" r="1.15" fill="#c4c4c4" stroke="#000" stroke-width="1.0"/>
<circle cx="269.74" cy="100.71" r="1.15" fill="#c4c4c4" stroke="#000" stroke-width="1.0"/>
<circle cx="265.65" cy="101.09" r="1.15" fill="#c4c4c4" stroke="#000" stroke-width="1.0"/>
<circle cx="267.90" cy="101.75" r="1.15" fill="#c4c4c4" stroke="#000" stroke-width="1.0"/>
<circle cx="271.10" cy="102.54" r="1.15" fill="#c4c4c4" stroke="#000" stroke-width="1.0"/>
<circle cx="266.30" cy="103.13" r="1.15" fill="#c4c4c4" stroke="#000" stroke-width="1.0"/>
<circle cx="268.70" cy="104.13" r="1.15" fill="#c4c4c4" stroke="#000" stroke-width="1.0"/>
<circle cx="263.90" cy="104.34" r="1.15" fill="#c4c4c4" stroke="#000" stroke-width="1.0"/>
<circle cx="271.10" cy="104.89" r="1.15" fill="#c4c4c4" stroke="#000" stroke-width="1.0"/>
<circle cx="267.90" cy="106.13" r="1.15" fill="#c4c4c4" stroke="#000" stroke-width="1.0"/>
<circle cx="265.50" cy="106.50" r="1.15" fill="#c4c4c4" stroke="#000" stroke-width="1.0"/>
<circle cx="270.30" cy="106.89" r="1.15" fill="#c4c4c4" stroke="#000" stroke-width="1.0"/>
<circle cx="266.65" cy="107.79" r="1.15" fill="#c4c4c4" stroke="#000" stroke-width="1.0"/>
<circle cx="263.90" cy="108.10" r="1.15" fill="#c4c4c4" stroke="#000" stroke-width="1.0"/>
<circle cx="268.70" cy="109.06" r="1.15" fill="#c4c4c4" stroke="#000" stroke-width="1.0"/>
<circle cx="266.30" cy="109.99" r="1.15" fill="#c4c4c4" stroke="#000" stroke-width="1.0"/>
<circle cx="289.20" cy="62.70" r="1.15" fill="#c4c4c4" stroke="#000" stroke-width="1.0"/>
<circle cx="289.20" cy="68.63" r="1.15" fill="#c4c4c4" stroke="#000" stroke-width="1.0"/>
<circle cx="291.60" cy="69.83" r="1.15" fill="#c4c4c4" stroke="#000" stroke-width="1.0"/>
<circle cx="287.60" cy="70.40" r="1.15" fill="#c4c4c4" stroke="#000" stroke-width="1.0"/>
<circle cx="290.00" cy="71.33" r="1.15" fill="#c4c4c4" stroke="#000" stroke-width="1.0"/>
<circle cx="286.00" cy="71.75" r="1.15" fill="#c4c4c4" stroke="#000" stroke-width="1.0"/>
<circle cx="292.40" cy="72.42" r="1.15" fill="#c4c4c4" stroke="#000" stroke-width="1.0"/>
<circle cx="289.20" cy="75.73" r="1.15" fill="#c4c4c4" stroke="#000" stroke-width="1.0"/>
<circle cx="291.60" cy="76.79" r="1.15" fill="#c4c4c4" stroke="#000" stroke-width="1.0"/>
<circle cx="287.60" cy="77.57" r="1.15" fill="#c4c4c4" stroke="#000" stroke-width="1.0"/>
<circle cx="290.00" cy="78.43" r="1.15" fill="#c4c4c4" stroke="#000" stroke-width="1.0"/>
<circle cx="292.40" cy="79.34" r="1.15" fill="#c4c4c4" stroke="#000" stroke-width="1.0"/>
<circle cx="288.40" cy="80.17" r="1.15" fill="#c4c4c4" stroke="#000" stroke-width="1.0"/>
<circle cx="286.00" cy="80.60" r="1.15" fill="#c4c4c4" stroke="#000" stroke-width="1.0"/>
<circle cx="290.00" cy="81.77" r="1.15" fill="#c4c4c4" stroke="#000" stroke-width="1.0"/>
<circle cx="287.60" cy="82.52" r="1.15" fill="#c4c4c4" stroke="#000" stroke-width="1.0"/>
<circle cx="291.60" cy="83.13" r="1.15" fill="#c4c4c4" stroke="#000" stroke-width="1.0"/>
<circle cx="289.20" cy="87.30" r="1.15" fill="#c4c4c4" stroke="#000" stroke-width="1.0"/>
<circle cx="289.20" cy="93.02" r="1.15" fill="#c4c4c4" stroke="#000" stroke-width="1.0"/>
<circle cx="291.60" cy="94.11" r="1.15" fill="#c4c4c4" stroke="#000" stroke-width="1.0"/>
<circle cx="288.40" cy="94.96" r="1.15" fill="#c4c4c4" stroke="#000" stroke-width="1.0"/>
<circle cx="287.50" cy="69.50" r="1.3" fill="#000"/>
<circle cx="310.50" cy="62.50" r="1.15" fill="#c4c4c4" stroke="#000" stroke-width="1.0"/>
<circle cx="310.50" cy="65.60" r="1.15" fill="#c4c4c4" stroke="#000" stroke-width="1.0"/>
<circle cx="310.50" cy="69.37" r="1.15" fill="#c4c4c4" stroke="#000" stroke-width="1.0"/>
<circle cx="312.10" cy="70.95" r="1.15" fill="#c4c4c4" stroke="#000" stroke-width="1.0"/>
<circle cx="310.50" cy="73.87" r="1.15" fill="#c4c4c4" stroke="#000" stroke-width="1.0"/>
<circle cx="312.90" cy="75.11" r="1.15" fill="#c4c4c4" stroke="#000" stroke-width="1.0"/>
<circle cx="310.50" cy="75.98" r="1.15" fill="#c4c4c4" stroke="#000" stroke-width="1.0"/>
<circle cx="308.10" cy="76.78" r="1.15" fill="#c4c4c4" stroke="#000" stroke-width="1.0"/>
<circle cx="313.70" cy="77.12" r="1.15" fill="#c4c4c4" stroke="#000" stroke-width="1.0"/>
<circle cx="311.91" cy="77.83" r="1.15" fill="#c4c4c4" stroke="#000" stroke-width="1.0"/>
<circle cx="309.70" cy="78.67" r="1.15" fill="#c4c4c4" stroke="#000" stroke-width="1.0"/>
<circle cx="313.70" cy="79.47" r="1.15" fill="#c4c4c4" stroke="#000" stroke-width="1.0"/>
<circle cx="311.30" cy="80.31" r="1.15" fill="#c4c4c4" stroke="#000" stroke-width="1.0"/>
<circle cx="308.90" cy="81.48" r="1.15" fill="#c4c4c4" stroke="#000" stroke-width="1.0"/>
<circle cx="311.30" cy="82.54" r="1.15" fill="#c4c4c4" stroke="#000" stroke-width="1.0"/>
<circle cx="313.70" cy="83.32" r="1.15" fill="#c4c4c4" stroke="#000" stroke-width="1.0"/>
<circle cx="308.90" cy="83.85" r="1.15" fill="#c4c4c4" stroke="#000" stroke-width="1.0"/>
<circle cx="311.30" cy="84.83" r="1.15" fill="#c4c4c4" stroke="#000" stroke-width="1.0"/>
<circle cx="313.70" cy="85.78" r="1.15" fill="#c4c4c4" stroke="#000" stroke-width="1.0"/>
<circle cx="308.90" cy="86.01" r="1.15" fill="#c4c4c4" stroke="#000" stroke-width="1.0"/>
<circle cx="311.30" cy="87.32" r="1.15" fill="#c4c4c4" stroke="#000" stroke-width="1.0"/>
<circle cx="308.90" cy="88.36" r="1.15" fill="#c4c4c4" stroke="#000" stroke-width="1.0"/>
<circle cx="312.90" cy="89.08" r="1.15" fill="#c4c4c4" stroke="#000" stroke-width="1.0"/>
<circle cx="310.50" cy="89.88" r="1.15" fill="#c4c4c4" stroke="#000" stroke-width="1.0"/>
<circle cx="308.10" cy="90.49" r="1.15" fill="#c4c4c4" stroke="#000" stroke-width="1.0"/>
<circle cx="313.70" cy="91.07" r="1.15" fill="#c4c4c4" stroke="#000" stroke-width="1.0"/>
<circle cx="310.50" cy="92.40" r="1.15" fill="#c4c4c4" stroke="#000" stroke-width="1.0"/>
<circle cx="308.10" cy="92.86" r="1.15" fill="#c4c4c4" stroke="#000" stroke-width="1.0"/>
<circle cx="312.10" cy="94.07" r="1.15" fill="#c4c4c4" stroke="#000" stroke-width="1.0"/>
<circle cx="309.70" cy="95.04" r="1.15" fill="#c4c4c4" stroke="#000" stroke-width="1.0"/>
<circle cx="307.30" cy="95.40" r="1.15" fill="#c4c4c4" stroke="#000" stroke-width="1.0"/>
<circle cx="312.10" cy="96.23" r="1.15" fill="#c4c4c4" stroke="#000" stroke-width="1.0"/>
<circle cx="309.70" cy="97.51" r="1.15" fill="#c4c4c4" stroke="#000" stroke-width="1.0"/>
<circle cx="313.70" cy="98.16" r="1.15" fill="#c4c4c4" stroke="#000" stroke-width="1.0"/>
<circle cx="307.30" cy="98.53" r="1.15" fill="#c4c4c4" stroke="#000" stroke-width="1.0"/>
<circle cx="311.30" cy="99.32" r="1.15" fill="#c4c4c4" stroke="#000" stroke-width="1.0"/>
<circle cx="308.90" cy="100.17" r="1.15" fill="#c4c4c4" stroke="#000" stroke-width="1.0"/>
<circle cx="310.50" cy="101.63" r="1.15" fill="#c4c4c4" stroke="#000" stroke-width="1.0"/>
<circle cx="312.90" cy="102.37" r="1.15" fill="#c4c4c4" stroke="#000" stroke-width="1.0"/>
<circle cx="308.10" cy="102.66" r="1.15" fill="#c4c4c4" stroke="#000" stroke-width="1.0"/>
<circle cx="310.50" cy="104.05" r="1.15" fill="#c4c4c4" stroke="#000" stroke-width="1.0"/>
<circle cx="312.90" cy="105.01" r="1.15" fill="#c4c4c4" stroke="#000" stroke-width="1.0"/>
<circle cx="308.90" cy="105.57" r="1.15" fill="#c4c4c4" stroke="#000" stroke-width="1.0"/>
<circle cx="306.50" cy="106.14" r="1.15" fill="#c4c4c4" stroke="#000" stroke-width="1.0"/>
<circle cx="310.50" cy="107.14" r="1.15" fill="#c4c4c4" stroke="#000" stroke-width="1.0"/>
<circle cx="312.90" cy="107.62" r="1.15" fill="#c4c4c4" stroke="#000" stroke-width="1.0"/>
<circle cx="308.10" cy="108.35" r="1.15" fill="#c4c4c4" stroke="#000" stroke-width="1.0"/>
<circle cx="310.50" cy="109.98" r="1.15" fill="#c4c4c4" stroke="#000" stroke-width="1.0"/>
<circle cx="331.80" cy="58.10" r="1.15" fill="#c4c4c4" stroke="#000" stroke-width="1.0"/>
<circle cx="331.80" cy="61.39" r="1.15" fill="#c4c4c4" stroke="#000" stroke-width="1.0"/>
<circle cx="334.20" cy="62.45" r="1.15" fill="#c4c4c4" stroke="#000" stroke-width="1.0"/>
<circle cx="330.20" cy="62.83" r="1.15" fill="#c4c4c4" stroke="#000" stroke-width="1.0"/>
<circle cx="332.60" cy="63.90" r="1.15" fill="#c4c4c4" stroke="#000" stroke-width="1.0"/>
<circle cx="331.80" cy="66.37" r="1.15" fill="#c4c4c4" stroke="#000" stroke-width="1.0"/>
<circle cx="334.20" cy="66.54" r="1.15" fill="#c4c4c4" stroke="#000" stroke-width="1.0"/>
<circle cx="329.40" cy="67.00" r="1.15" fill="#c4c4c4" stroke="#000" stroke-width="1.0"/>
<circle cx="333.67" cy="67.47" r="1.15" fill="#c4c4c4" stroke="#000" stroke-width="1.0"/>
<circle cx="335.80" cy="67.89" r="1.15" fill="#c4c4c4" stroke="#000" stroke-width="1.0"/>
<circle cx="331.80" cy="68.49" r="1.15" fill="#c4c4c4" stroke="#000" stroke-width="1.0"/>
<circle cx="327.80" cy="68.79" r="1.15" fill="#c4c4c4" stroke="#000" stroke-width="1.0"/>
<circle cx="335.34" cy="69.31" r="1.15" fill="#c4c4c4" stroke="#000" stroke-width="1.0"/>
<circle cx="335.96" cy="69.62" r="1.15" fill="#c4c4c4" stroke="#000" stroke-width="1.0"/>
<circle cx="333.40" cy="70.42" r="1.15" fill="#c4c4c4" stroke="#000" stroke-width="1.0"/>
<circle cx="331.00" cy="70.61" r="1.15" fill="#c4c4c4" stroke="#000" stroke-width="1.0"/>
<circle cx="328.60" cy="71.11" r="1.15" fill="#c4c4c4" stroke="#000" stroke-width="1.0"/>
<circle cx="329.54" cy="71.61" r="1.15" fill="#c4c4c4" stroke="#000" stroke-width="1.0"/>
<circle cx="335.00" cy="72.20" r="1.15" fill="#c4c4c4" stroke="#000" stroke-width="1.0"/>
<circle cx="332.60" cy="72.43" r="1.15" fill="#c4c4c4" stroke="#000" stroke-width="1.0"/>
<circle cx="327.80" cy="73.09" r="1.15" fill="#c4c4c4" stroke="#000" stroke-width="1.0"/>
<circle cx="332.36" cy="73.35" r="1.15" fill="#c4c4c4" stroke="#000" stroke-width="1.0"/>
<circle cx="330.20" cy="73.81" r="1.15" fill="#c4c4c4" stroke="#000" stroke-width="1.0"/>
<circle cx="335.80" cy="74.26" r="1.15" fill="#c4c4c4" stroke="#000" stroke-width="1.0"/>
<circle cx="335.97" cy="74.48" r="1.15" fill="#c4c4c4" stroke="#000" stroke-width="1.0"/>
<circle cx="335.00" cy="75.11" r="1.15" fill="#c4c4c4" stroke="#000" stroke-width="1.0"/>
<circle cx="331.80" cy="75.44" r="1.15" fill="#c4c4c4" stroke="#000" stroke-width="1.0"/>
<circle cx="329.40" cy="75.81" r="1.15" fill="#c4c4c4" stroke="#000" stroke-width="1.0"/>
<circle cx="328.39" cy="76.61" r="1.15" fill="#c4c4c4" stroke="#000" stroke-width="1.0"/>
<circle cx="328.24" cy="76.77" r="1.15" fill="#c4c4c4" stroke="#000" stroke-width="1.0"/>
<circle cx="333.40" cy="77.35" r="1.15" fill="#c4c4c4" stroke="#000" stroke-width="1.0"/>
<circle cx="331.00" cy="77.91" r="1.15" fill="#c4c4c4" stroke="#000" stroke-width="1.0"/>
<circle cx="335.80" cy="78.28" r="1.15" fill="#c4c4c4" stroke="#000" stroke-width="1.0"/>
<circle cx="331.26" cy="78.62" r="1.15" fill="#c4c4c4" stroke="#000" stroke-width="1.0"/>
<circle cx="328.60" cy="79.15" r="1.15" fill="#c4c4c4" stroke="#000" stroke-width="1.0"/>
<circle cx="333.40" cy="79.62" r="1.15" fill="#c4c4c4" stroke="#000" stroke-width="1.0"/>
<circle cx="327.78" cy="80.16" r="1.15" fill="#c4c4c4" stroke="#000" stroke-width="1.0"/>
<circle cx="329.36" cy="80.31" r="1.15" fill="#c4c4c4" stroke="#000" stroke-width="1.0"/>
<circle cx="335.80" cy="80.96" r="1.15" fill="#c4c4c4" stroke="#000" stroke-width="1.0"/>
<circle cx="331.80" cy="81.26" r="1.15" fill="#c4c4c4" stroke="#000" stroke-width="1.0"/>
<circle cx="327.79" cy="81.72" r="1.15" fill="#c4c4c4" stroke="#000" stroke-width="1.0"/>
<circle cx="334.20" cy="82.39" r="1.15" fill="#c4c4c4" stroke="#000" stroke-width="1.0"/>
<circle cx="330.20" cy="82.72" r="1.15" fill="#c4c4c4" stroke="#000" stroke-width="1.0"/>
<circle cx="333.39" cy="83.19" r="1.15" fill="#c4c4c4" stroke="#000" stroke-width="1.0"/>
<circle cx="334.47" cy="83.72" r="1.15" fill="#c4c4c4" stroke="#000" stroke-width="1.0"/>
<circle cx="328.60" cy="84.23" r="1.15" fill="#c4c4c4" stroke="#000" stroke-width="1.0"/>
<circle cx="335.53" cy="84.47" r="1.15" fill="#c4c4c4" stroke="#000" stroke-width="1.0"/>
<circle cx="331.80" cy="84.99" r="1.15" fill="#c4c4c4" stroke="#000" stroke-width="1.0"/>
<circle cx="328.55" cy="85.39" r="1.15" fill="#c4c4c4" stroke="#000" stroke-width="1.0"/>
<circle cx="333.83" cy="85.84" r="1.15" fill="#c4c4c4" stroke="#000" stroke-width="1.0"/>
<circle cx="333.31" cy="86.36" r="1.15" fill="#c4c4c4" stroke="#000" stroke-width="1.0"/>
<circle cx="331.80" cy="90.50" r="1.15" fill="#c4c4c4" stroke="#000" stroke-width="1.0"/>
<circle cx="331.80" cy="97.50" r="1.15" fill="#c4c4c4" stroke="#000" stroke-width="1.0"/>
<circle cx="331.80" cy="100.68" r="1.15" fill="#c4c4c4" stroke="#000" stroke-width="1.0"/>
<circle cx="333.40" cy="102.30" r="1.15" fill="#c4c4c4" stroke="#000" stroke-width="1.0"/>
<circle cx="331.80" cy="108.12" r="1.15" fill="#c4c4c4" stroke="#000" stroke-width="1.0"/>
<circle cx="334.20" cy="108.49" r="1.15" fill="#c4c4c4" stroke="#000" stroke-width="1.0"/>
<circle cx="329.00" cy="70.00" r="1.3" fill="#000"/>
<circle cx="333.00" cy="74.00" r="1.3" fill="#000"/>
<line x1="225.30" y1="111.50" x2="225.30" y2="114.70" stroke="#000" stroke-width="1.1"/>
<line x1="246.60" y1="111.50" x2="246.60" y2="114.70" stroke="#000" stroke-width="1.1"/>
<line x1="267.90" y1="111.50" x2="267.90" y2="114.70" stroke="#000" stroke-width="1.1"/>
<line x1="289.20" y1="111.50" x2="289.20" y2="114.70" stroke="#000" stroke-width="1.1"/>
<line x1="310.50" y1="111.50" x2="310.50" y2="114.70" stroke="#000" stroke-width="1.1"/>
<line x1="331.80" y1="111.50" x2="331.80" y2="114.70" stroke="#000" stroke-width="1.1"/>
<circle cx="243.15" cy="67.50" r="1.1" fill="#111"/>
<circle cx="245.90" cy="67.50" r="1.1" fill="#111"/>
<circle cx="248.65" cy="67.50" r="1.1" fill="#111"/>
<circle cx="267.35" cy="48.70" r="1.1" fill="#111"/>
<circle cx="270.10" cy="48.70" r="1.1" fill="#111"/>
<circle cx="272.85" cy="48.70" r="1.1" fill="#111"/>
<circle cx="308.45" cy="43.20" r="1.1" fill="#111"/>
<circle cx="311.20" cy="43.20" r="1.1" fill="#111"/>
<circle cx="313.95" cy="43.20" r="1.1" fill="#111"/>
<path d="M269.4,33.4 V24.3 H312.5 V33.2" fill="none" stroke="#000" stroke-width="1.2"/>
<circle cx="287.52" cy="18.80" r="1.1" fill="#111"/>
<circle cx="290.27" cy="18.80" r="1.1" fill="#111"/>
<text x="0.00" y="0.00" font-size="7.7" text-anchor="end" fill="#000" transform="translate(228.60,116.20) rotate(-90)">WT</text>
<text x="0.00" y="0.00" font-size="7.7" text-anchor="end" fill="#000" transform="translate(249.90,116.20) rotate(-90)">WT + LY294002</text>
<text x="0.00" y="0.00" font-size="7.7" text-anchor="end" fill="#000" transform="translate(271.20,116.20) rotate(-90)">p110<tspan dy="1.4" font-size="6">&#948;</tspan><tspan dy="-4.0" font-size="4.7">D910A</tspan></text>
<text x="0.00" y="0.00" font-size="7.7" text-anchor="end" fill="#000" transform="translate(292.50,116.20) rotate(-90)">p110<tspan dy="1.4" font-size="6">&#947;</tspan><tspan dy="-4.0" font-size="4.7">-/-</tspan></text>
<text x="0.00" y="0.00" font-size="7.7" text-anchor="end" fill="#000" transform="translate(313.80,116.20) rotate(-90)">CD28<tspan dy="-2.7" font-size="4.7">-/-</tspan></text>
<text x="0.00" y="0.00" font-size="7.7" text-anchor="end" fill="#000" transform="translate(335.10,116.20) rotate(-90)">CD28<tspan dy="-2.7" font-size="4.7">Y170F</tspan></text>
<text x="441.00" y="7.70" font-size="7.4" text-anchor="start" font-weight="bold" fill="#000">PKC&#952;</text>
<text x="0.00" y="0.00" font-size="8.05" text-anchor="middle" fill="#000" transform="translate(373.80,67.50) rotate(-90)">ln (synapse:cytosol)</text>
<line x1="388.00" y1="25.50" x2="388.00" y2="111.30" stroke="#000" stroke-width="1.2"/>
<line x1="387.40" y1="110.80" x2="519.50" y2="110.80" stroke="#000" stroke-width="1.2"/>
<line x1="385.40" y1="110.80" x2="388.00" y2="110.80" stroke="#000" stroke-width="1.1"/>
<text x="383.60" y="113.00" font-size="7.4" text-anchor="end" fill="#000">0</text>
<line x1="385.40" y1="76.80" x2="388.00" y2="76.80" stroke="#000" stroke-width="1.1"/>
<text x="383.60" y="79.00" font-size="7.4" text-anchor="end" fill="#000">1</text>
<line x1="385.40" y1="42.80" x2="388.00" y2="42.80" stroke="#000" stroke-width="1.1"/>
<text x="383.60" y="45.00" font-size="7.4" text-anchor="end" fill="#000">2</text>
<line x1="390.30" y1="63.20" x2="406.90" y2="63.20" stroke="#c41a2a" stroke-width="2.0"/>
<line x1="412.30" y1="66.20" x2="428.90" y2="66.20" stroke="#c41a2a" stroke-width="2.0"/>
<line x1="434.20" y1="62.10" x2="450.80" y2="62.10" stroke="#c41a2a" stroke-width="2.0"/>
<line x1="456.20" y1="66.10" x2="472.80" y2="66.10" stroke="#c41a2a" stroke-width="2.0"/>
<line x1="478.20" y1="83.60" x2="494.80" y2="83.60" stroke="#c41a2a" stroke-width="2.0"/>
<line x1="500.20" y1="73.60" x2="516.80" y2="73.60" stroke="#c41a2a" stroke-width="2.0"/>
<circle cx="398.60" cy="35.20" r="1.15" fill="#c4c4c4" stroke="#000" stroke-width="1.0"/>
<circle cx="398.60" cy="38.61" r="1.15" fill="#c4c4c4" stroke="#000" stroke-width="1.0"/>
<circle cx="401.00" cy="39.91" r="1.15" fill="#c4c4c4" stroke="#000" stroke-width="1.0"/>
<circle cx="398.60" cy="40.73" r="1.15" fill="#c4c4c4" stroke="#000" stroke-width="1.0"/>
<circle cx="396.20" cy="40.91" r="1.15" fill="#c4c4c4" stroke="#000" stroke-width="1.0"/>
<circle cx="400.20" cy="42.21" r="1.15" fill="#c4c4c4" stroke="#000" stroke-width="1.0"/>
<circle cx="402.60" cy="42.55" r="1.15" fill="#c4c4c4" stroke="#000" stroke-width="1.0"/>
<circle cx="398.60" cy="45.81" r="1.15" fill="#c4c4c4" stroke="#000" stroke-width="1.0"/>
<circle cx="401.00" cy="46.78" r="1.15" fill="#c4c4c4" stroke="#000" stroke-width="1.0"/>
<circle cx="397.00" cy="47.32" r="1.15" fill="#c4c4c4" stroke="#000" stroke-width="1.0"/>
<circle cx="394.60" cy="47.53" r="1.15" fill="#c4c4c4" stroke="#000" stroke-width="1.0"/>
<circle cx="399.40" cy="48.35" r="1.15" fill="#c4c4c4" stroke="#000" stroke-width="1.0"/>
<circle cx="401.80" cy="49.05" r="1.15" fill="#c4c4c4" stroke="#000" stroke-width="1.0"/>
<circle cx="397.00" cy="49.58" r="1.15" fill="#c4c4c4" stroke="#000" stroke-width="1.0"/>
<circle cx="398.60" cy="52.61" r="1.15" fill="#c4c4c4" stroke="#000" stroke-width="1.0"/>
<circle cx="401.00" cy="53.26" r="1.15" fill="#c4c4c4" stroke="#000" stroke-width="1.0"/>
<circle cx="397.00" cy="54.07" r="1.15" fill="#c4c4c4" stroke="#000" stroke-width="1.0"/>
<circle cx="394.60" cy="54.24" r="1.15" fill="#c4c4c4" stroke="#000" stroke-width="1.0"/>
<circle cx="399.40" cy="55.13" r="1.15" fill="#c4c4c4" stroke="#000" stroke-width="1.0"/>
<circle cx="401.80" cy="55.64" r="1.15" fill="#c4c4c4" stroke="#000" stroke-width="1.0"/>
<circle cx="394.93" cy="55.97" r="1.15" fill="#c4c4c4" stroke="#000" stroke-width="1.0"/>
<circle cx="397.80" cy="56.73" r="1.15" fill="#c4c4c4" stroke="#000" stroke-width="1.0"/>
<circle cx="400.20" cy="57.48" r="1.15" fill="#c4c4c4" stroke="#000" stroke-width="1.0"/>
<circle cx="402.60" cy="57.99" r="1.15" fill="#c4c4c4" stroke="#000" stroke-width="1.0"/>
<circle cx="396.20" cy="58.31" r="1.15" fill="#c4c4c4" stroke="#000" stroke-width="1.0"/>
<circle cx="398.60" cy="59.41" r="1.15" fill="#c4c4c4" stroke="#000" stroke-width="1.0"/>
<circle cx="401.00" cy="59.88" r="1.15" fill="#c4c4c4" stroke="#000" stroke-width="1.0"/>
<circle cx="398.60" cy="61.51" r="1.15" fill="#c4c4c4" stroke="#000" stroke-width="1.0"/>
<circle cx="396.20" cy="61.58" r="1.15" fill="#c4c4c4" stroke="#000" stroke-width="1.0"/>
<circle cx="401.00" cy="62.19" r="1.15" fill="#c4c4c4" stroke="#000" stroke-width="1.0"/>
<circle cx="395.42" cy="62.60" r="1.15" fill="#c4c4c4" stroke="#000" stroke-width="1.0"/>
<circle cx="397.80" cy="63.51" r="1.15" fill="#c4c4c4" stroke="#000" stroke-width="1.0"/>
<circle cx="402.60" cy="63.77" r="1.15" fill="#c4c4c4" stroke="#000" stroke-width="1.0"/>
<circle cx="400.20" cy="64.22" r="1.15" fill="#c4c4c4" stroke="#000" stroke-width="1.0"/>
<circle cx="396.20" cy="64.90" r="1.15" fill="#c4c4c4" stroke="#000" stroke-width="1.0"/>
<circle cx="398.60" cy="65.68" r="1.15" fill="#c4c4c4" stroke="#000" stroke-width="1.0"/>
<circle cx="401.00" cy="66.15" r="1.15" fill="#c4c4c4" stroke="#000" stroke-width="1.0"/>
<circle cx="394.60" cy="66.39" r="1.15" fill="#c4c4c4" stroke="#000" stroke-width="1.0"/>
<circle cx="394.37" cy="66.85" r="1.15" fill="#c4c4c4" stroke="#000" stroke-width="1.0"/>
<circle cx="398.60" cy="67.78" r="1.15" fill="#c4c4c4" stroke="#000" stroke-width="1.0"/>
<circle cx="396.20" cy="68.12" r="1.15" fill="#c4c4c4" stroke="#000" stroke-width="1.0"/>
<circle cx="401.00" cy="68.72" r="1.15" fill="#c4c4c4" stroke="#000" stroke-width="1.0"/>
<circle cx="395.80" cy="68.92" r="1.15" fill="#c4c4c4" stroke="#000" stroke-width="1.0"/>
<circle cx="396.83" cy="69.43" r="1.15" fill="#c4c4c4" stroke="#000" stroke-width="1.0"/>
<circle cx="399.40" cy="70.29" r="1.15" fill="#c4c4c4" stroke="#000" stroke-width="1.0"/>
<circle cx="401.80" cy="70.67" r="1.15" fill="#c4c4c4" stroke="#000" stroke-width="1.0"/>
<circle cx="395.40" cy="71.01" r="1.15" fill="#c4c4c4" stroke="#000" stroke-width="1.0"/>
<circle cx="398.60" cy="72.28" r="1.15" fill="#c4c4c4" stroke="#000" stroke-width="1.0"/>
<circle cx="401.00" cy="72.86" r="1.15" fill="#c4c4c4" stroke="#000" stroke-width="1.0"/>
<circle cx="397.00" cy="73.83" r="1.15" fill="#c4c4c4" stroke="#000" stroke-width="1.0"/>
<circle cx="394.60" cy="74.07" r="1.15" fill="#c4c4c4" stroke="#000" stroke-width="1.0"/>
<circle cx="398.60" cy="75.55" r="1.15" fill="#c4c4c4" stroke="#000" stroke-width="1.0"/>
<circle cx="401.00" cy="75.72" r="1.15" fill="#c4c4c4" stroke="#000" stroke-width="1.0"/>
<circle cx="397.00" cy="77.22" r="1.15" fill="#c4c4c4" stroke="#000" stroke-width="1.0"/>
<circle cx="399.40" cy="77.71" r="1.15" fill="#c4c4c4" stroke="#000" stroke-width="1.0"/>
<circle cx="401.80" cy="78.45" r="1.15" fill="#c4c4c4" stroke="#000" stroke-width="1.0"/>
<circle cx="397.80" cy="79.46" r="1.15" fill="#c4c4c4" stroke="#000" stroke-width="1.0"/>
<circle cx="400.20" cy="80.61" r="1.15" fill="#c4c4c4" stroke="#000" stroke-width="1.0"/>
<circle cx="396.20" cy="80.89" r="1.15" fill="#c4c4c4" stroke="#000" stroke-width="1.0"/>
<circle cx="398.60" cy="85.47" r="1.15" fill="#c4c4c4" stroke="#000" stroke-width="1.0"/>
<circle cx="401.00" cy="86.21" r="1.15" fill="#c4c4c4" stroke="#000" stroke-width="1.0"/>
<circle cx="396.20" cy="86.59" r="1.15" fill="#c4c4c4" stroke="#000" stroke-width="1.0"/>
<circle cx="398.60" cy="90.90" r="1.15" fill="#c4c4c4" stroke="#000" stroke-width="1.0"/>
<circle cx="398.60" cy="100.20" r="1.15" fill="#c4c4c4" stroke="#000" stroke-width="1.0"/>
<circle cx="398.60" cy="104.90" r="1.15" fill="#c4c4c4" stroke="#000" stroke-width="1.0"/>
<circle cx="396.50" cy="42.00" r="1.3" fill="#000"/>
<circle cx="397.00" cy="48.00" r="1.3" fill="#000"/>
<circle cx="398.00" cy="56.00" r="1.3" fill="#000"/>
<circle cx="420.60" cy="40.00" r="1.15" fill="#c4c4c4" stroke="#000" stroke-width="1.0"/>
<circle cx="420.60" cy="42.20" r="1.15" fill="#c4c4c4" stroke="#000" stroke-width="1.0"/>
<circle cx="420.60" cy="44.30" r="1.15" fill="#c4c4c4" stroke="#000" stroke-width="1.0"/>
<circle cx="420.60" cy="53.15" r="1.15" fill="#c4c4c4" stroke="#000" stroke-width="1.0"/>
<circle cx="423.00" cy="53.88" r="1.15" fill="#c4c4c4" stroke="#000" stroke-width="1.0"/>
<circle cx="420.60" cy="58.19" r="1.15" fill="#c4c4c4" stroke="#000" stroke-width="1.0"/>
<circle cx="423.00" cy="58.98" r="1.15" fill="#c4c4c4" stroke="#000" stroke-width="1.0"/>
<circle cx="420.60" cy="62.19" r="1.15" fill="#c4c4c4" stroke="#000" stroke-width="1.0"/>
<circle cx="423.00" cy="63.41" r="1.15" fill="#c4c4c4" stroke="#000" stroke-width="1.0"/>
<circle cx="419.00" cy="64.11" r="1.15" fill="#c4c4c4" stroke="#000" stroke-width="1.0"/>
<circle cx="421.40" cy="65.39" r="1.15" fill="#c4c4c4" stroke="#000" stroke-width="1.0"/>
<circle cx="418.20" cy="66.19" r="1.15" fill="#c4c4c4" stroke="#000" stroke-width="1.0"/>
<circle cx="420.60" cy="67.99" r="1.15" fill="#c4c4c4" stroke="#000" stroke-width="1.0"/>
<circle cx="423.00" cy="68.84" r="1.15" fill="#c4c4c4" stroke="#000" stroke-width="1.0"/>
<circle cx="419.00" cy="69.51" r="1.15" fill="#c4c4c4" stroke="#000" stroke-width="1.0"/>
<circle cx="420.60" cy="70.85" r="1.15" fill="#c4c4c4" stroke="#000" stroke-width="1.0"/>
<circle cx="420.60" cy="73.12" r="1.15" fill="#c4c4c4" stroke="#000" stroke-width="1.0"/>
<circle cx="423.00" cy="73.33" r="1.15" fill="#c4c4c4" stroke="#000" stroke-width="1.0"/>
<circle cx="420.60" cy="75.38" r="1.15" fill="#c4c4c4" stroke="#000" stroke-width="1.0"/>
<circle cx="423.00" cy="76.12" r="1.15" fill="#c4c4c4" stroke="#000" stroke-width="1.0"/>
<circle cx="420.60" cy="80.70" r="1.15" fill="#c4c4c4" stroke="#000" stroke-width="1.0"/>
<circle cx="420.60" cy="83.26" r="1.15" fill="#c4c4c4" stroke="#000" stroke-width="1.0"/>
<circle cx="423.00" cy="83.98" r="1.15" fill="#c4c4c4" stroke="#000" stroke-width="1.0"/>
<circle cx="418.20" cy="84.28" r="1.15" fill="#c4c4c4" stroke="#000" stroke-width="1.0"/>
<circle cx="442.50" cy="37.50" r="1.15" fill="#c4c4c4" stroke="#000" stroke-width="1.0"/>
<circle cx="442.50" cy="48.27" r="1.15" fill="#c4c4c4" stroke="#000" stroke-width="1.0"/>
<circle cx="444.90" cy="49.37" r="1.15" fill="#c4c4c4" stroke="#000" stroke-width="1.0"/>
<circle cx="442.50" cy="50.57" r="1.15" fill="#c4c4c4" stroke="#000" stroke-width="1.0"/>
<circle cx="440.10" cy="50.90" r="1.15" fill="#c4c4c4" stroke="#000" stroke-width="1.0"/>
<circle cx="444.10" cy="52.29" r="1.15" fill="#c4c4c4" stroke="#000" stroke-width="1.0"/>
<circle cx="441.70" cy="53.10" r="1.15" fill="#c4c4c4" stroke="#000" stroke-width="1.0"/>
<circle cx="445.70" cy="53.96" r="1.15" fill="#c4c4c4" stroke="#000" stroke-width="1.0"/>
<circle cx="442.50" cy="58.29" r="1.15" fill="#c4c4c4" stroke="#000" stroke-width="1.0"/>
<circle cx="444.90" cy="58.97" r="1.15" fill="#c4c4c4" stroke="#000" stroke-width="1.0"/>
<circle cx="440.10" cy="59.49" r="1.15" fill="#c4c4c4" stroke="#000" stroke-width="1.0"/>
<circle cx="441.99" cy="60.26" r="1.15" fill="#c4c4c4" stroke="#000" stroke-width="1.0"/>
<circle cx="444.10" cy="60.94" r="1.15" fill="#c4c4c4" stroke="#000" stroke-width="1.0"/>
<circle cx="440.90" cy="62.15" r="1.15" fill="#c4c4c4" stroke="#000" stroke-width="1.0"/>
<circle cx="445.70" cy="62.52" r="1.15" fill="#c4c4c4" stroke="#000" stroke-width="1.0"/>
<circle cx="443.30" cy="63.18" r="1.15" fill="#c4c4c4" stroke="#000" stroke-width="1.0"/>
<circle cx="439.30" cy="63.85" r="1.15" fill="#c4c4c4" stroke="#000" stroke-width="1.0"/>
<circle cx="442.50" cy="65.12" r="1.15" fill="#c4c4c4" stroke="#000" stroke-width="1.0"/>
<circle cx="444.90" cy="65.86" r="1.15" fill="#c4c4c4" stroke="#000" stroke-width="1.0"/>
<circle cx="440.10" cy="66.44" r="1.15" fill="#c4c4c4" stroke="#000" stroke-width="1.0"/>
<circle cx="440.27" cy="66.88" r="1.15" fill="#c4c4c4" stroke="#000" stroke-width="1.0"/>
<circle cx="442.50" cy="70.30" r="1.15" fill="#c4c4c4" stroke="#000" stroke-width="1.0"/>
<circle cx="444.90" cy="71.62" r="1.15" fill="#c4c4c4" stroke="#000" stroke-width="1.0"/>
<circle cx="442.50" cy="73.07" r="1.15" fill="#c4c4c4" stroke="#000" stroke-width="1.0"/>
<circle cx="444.90" cy="73.95" r="1.15" fill="#c4c4c4" stroke="#000" stroke-width="1.0"/>
<circle cx="442.50" cy="81.40" r="1.15" fill="#c4c4c4" stroke="#000" stroke-width="1.0"/>
<circle cx="441.00" cy="63.00" r="1.3" fill="#000"/>
<circle cx="444.00" cy="64.00" r="1.3" fill="#000"/>
<circle cx="464.50" cy="49.60" r="1.15" fill="#c4c4c4" stroke="#000" stroke-width="1.0"/>
<circle cx="466.90" cy="50.55" r="1.15" fill="#c4c4c4" stroke="#000" stroke-width="1.0"/>
<circle cx="462.90" cy="51.09" r="1.15" fill="#c4c4c4" stroke="#000" stroke-width="1.0"/>
<circle cx="460.50" cy="51.74" r="1.15" fill="#c4c4c4" stroke="#000" stroke-width="1.0"/>
<circle cx="464.50" cy="53.36" r="1.15" fill="#c4c4c4" stroke="#000" stroke-width="1.0"/>
<circle cx="466.90" cy="53.68" r="1.15" fill="#c4c4c4" stroke="#000" stroke-width="1.0"/>
<circle cx="462.10" cy="54.66" r="1.15" fill="#c4c4c4" stroke="#000" stroke-width="1.0"/>
<circle cx="468.50" cy="55.26" r="1.15" fill="#c4c4c4" stroke="#000" stroke-width="1.0"/>
<circle cx="464.50" cy="59.00" r="1.15" fill="#c4c4c4" stroke="#000" stroke-width="1.0"/>
<circle cx="466.90" cy="59.00" r="1.15" fill="#c4c4c4" stroke="#000" stroke-width="1.0"/>
<circle cx="464.50" cy="63.08" r="1.15" fill="#c4c4c4" stroke="#000" stroke-width="1.0"/>
<circle cx="466.90" cy="63.60" r="1.15" fill="#c4c4c4" stroke="#000" stroke-width="1.0"/>
<circle cx="462.90" cy="64.58" r="1.15" fill="#c4c4c4" stroke="#000" stroke-width="1.0"/>
<circle cx="468.50" cy="64.95" r="1.15" fill="#c4c4c4" stroke="#000" stroke-width="1.0"/>
<circle cx="465.30" cy="65.90" r="1.15" fill="#c4c4c4" stroke="#000" stroke-width="1.0"/>
<circle cx="462.10" cy="66.52" r="1.15" fill="#c4c4c4" stroke="#000" stroke-width="1.0"/>
<circle cx="466.90" cy="67.50" r="1.15" fill="#c4c4c4" stroke="#000" stroke-width="1.0"/>
<circle cx="464.50" cy="67.98" r="1.15" fill="#c4c4c4" stroke="#000" stroke-width="1.0"/>
<circle cx="462.10" cy="68.72" r="1.15" fill="#c4c4c4" stroke="#000" stroke-width="1.0"/>
<circle cx="466.10" cy="69.68" r="1.15" fill="#c4c4c4" stroke="#000" stroke-width="1.0"/>
<circle cx="464.50" cy="73.31" r="1.15" fill="#c4c4c4" stroke="#000" stroke-width="1.0"/>
<circle cx="466.10" cy="75.11" r="1.15" fill="#c4c4c4" stroke="#000" stroke-width="1.0"/>
<circle cx="463.70" cy="76.37" r="1.15" fill="#c4c4c4" stroke="#000" stroke-width="1.0"/>
<circle cx="465.30" cy="78.00" r="1.15" fill="#c4c4c4" stroke="#000" stroke-width="1.0"/>
<circle cx="462.90" cy="79.21" r="1.15" fill="#c4c4c4" stroke="#000" stroke-width="1.0"/>
<circle cx="464.50" cy="80.62" r="1.15" fill="#c4c4c4" stroke="#000" stroke-width="1.0"/>
<circle cx="466.10" cy="82.17" r="1.15" fill="#c4c4c4" stroke="#000" stroke-width="1.0"/>
<circle cx="463.70" cy="82.85" r="1.15" fill="#c4c4c4" stroke="#000" stroke-width="1.0"/>
<circle cx="466.90" cy="84.10" r="1.15" fill="#c4c4c4" stroke="#000" stroke-width="1.0"/>
<circle cx="486.50" cy="66.23" r="1.15" fill="#c4c4c4" stroke="#000" stroke-width="1.0"/>
<circle cx="488.90" cy="66.44" r="1.15" fill="#c4c4c4" stroke="#000" stroke-width="1.0"/>
<circle cx="486.50" cy="68.41" r="1.15" fill="#c4c4c4" stroke="#000" stroke-width="1.0"/>
<circle cx="488.90" cy="69.55" r="1.15" fill="#c4c4c4" stroke="#000" stroke-width="1.0"/>
<circle cx="484.90" cy="70.05" r="1.15" fill="#c4c4c4" stroke="#000" stroke-width="1.0"/>
<circle cx="486.50" cy="72.29" r="1.15" fill="#c4c4c4" stroke="#000" stroke-width="1.0"/>
<circle cx="488.90" cy="73.61" r="1.15" fill="#c4c4c4" stroke="#000" stroke-width="1.0"/>
<circle cx="486.50" cy="74.53" r="1.15" fill="#c4c4c4" stroke="#000" stroke-width="1.0"/>
<circle cx="488.10" cy="75.92" r="1.15" fill="#c4c4c4" stroke="#000" stroke-width="1.0"/>
<circle cx="486.50" cy="77.27" r="1.15" fill="#c4c4c4" stroke="#000" stroke-width="1.0"/>
<circle cx="484.10" cy="77.67" r="1.15" fill="#c4c4c4" stroke="#000" stroke-width="1.0"/>
<circle cx="486.50" cy="79.40" r="1.15" fill="#c4c4c4" stroke="#000" stroke-width="1.0"/>
<circle cx="486.50" cy="85.44" r="1.15" fill="#c4c4c4" stroke="#000" stroke-width="1.0"/>
<circle cx="488.90" cy="86.61" r="1.15" fill="#c4c4c4" stroke="#000" stroke-width="1.0"/>
<circle cx="485.70" cy="87.45" r="1.15" fill="#c4c4c4" stroke="#000" stroke-width="1.0"/>
<circle cx="483.30" cy="88.35" r="1.15" fill="#c4c4c4" stroke="#000" stroke-width="1.0"/>
<circle cx="487.30" cy="89.01" r="1.15" fill="#c4c4c4" stroke="#000" stroke-width="1.0"/>
<circle cx="484.90" cy="90.16" r="1.15" fill="#c4c4c4" stroke="#000" stroke-width="1.0"/>
<circle cx="488.90" cy="90.85" r="1.15" fill="#c4c4c4" stroke="#000" stroke-width="1.0"/>
<circle cx="486.50" cy="91.73" r="1.15" fill="#c4c4c4" stroke="#000" stroke-width="1.0"/>
<circle cx="486.50" cy="95.38" r="1.15" fill="#c4c4c4" stroke="#000" stroke-width="1.0"/>
<circle cx="488.90" cy="96.72" r="1.15" fill="#c4c4c4" stroke="#000" stroke-width="1.0"/>
<circle cx="486.50" cy="98.56" r="1.15" fill="#c4c4c4" stroke="#000" stroke-width="1.0"/>
<circle cx="490.00" cy="55.40" r="1.15" fill="#c4c4c4" stroke="#000" stroke-width="1.0"/>
<circle cx="486.50" cy="59.40" r="1.15" fill="#c4c4c4" stroke="#000" stroke-width="1.0"/>
<circle cx="486.50" cy="107.40" r="1.15" fill="#c4c4c4" stroke="#000" stroke-width="1.0"/>
<circle cx="489.10" cy="106.20" r="1.15" fill="#c4c4c4" stroke="#000" stroke-width="1.0"/>
<circle cx="508.50" cy="54.05" r="1.15" fill="#c4c4c4" stroke="#000" stroke-width="1.0"/>
<circle cx="510.90" cy="54.77" r="1.15" fill="#c4c4c4" stroke="#000" stroke-width="1.0"/>
<circle cx="508.50" cy="56.44" r="1.15" fill="#c4c4c4" stroke="#000" stroke-width="1.0"/>
<circle cx="510.90" cy="57.14" r="1.15" fill="#c4c4c4" stroke="#000" stroke-width="1.0"/>
<circle cx="506.90" cy="58.17" r="1.15" fill="#c4c4c4" stroke="#000" stroke-width="1.0"/>
<circle cx="509.30" cy="59.14" r="1.15" fill="#c4c4c4" stroke="#000" stroke-width="1.0"/>
<circle cx="506.10" cy="60.16" r="1.15" fill="#c4c4c4" stroke="#000" stroke-width="1.0"/>
<circle cx="510.90" cy="60.94" r="1.15" fill="#c4c4c4" stroke="#000" stroke-width="1.0"/>
<circle cx="508.50" cy="61.44" r="1.15" fill="#c4c4c4" stroke="#000" stroke-width="1.0"/>
<circle cx="510.10" cy="62.94" r="1.15" fill="#c4c4c4" stroke="#000" stroke-width="1.0"/>
<circle cx="507.70" cy="63.58" r="1.15" fill="#c4c4c4" stroke="#000" stroke-width="1.0"/>
<circle cx="505.30" cy="64.08" r="1.15" fill="#c4c4c4" stroke="#000" stroke-width="1.0"/>
<circle cx="511.70" cy="64.78" r="1.15" fill="#c4c4c4" stroke="#000" stroke-width="1.0"/>
<circle cx="508.50" cy="65.54" r="1.15" fill="#c4c4c4" stroke="#000" stroke-width="1.0"/>
<circle cx="512.90" cy="65.81" r="1.15" fill="#c4c4c4" stroke="#000" stroke-width="1.0"/>
<circle cx="510.10" cy="66.94" r="1.15" fill="#c4c4c4" stroke="#000" stroke-width="1.0"/>
<circle cx="506.90" cy="67.28" r="1.15" fill="#c4c4c4" stroke="#000" stroke-width="1.0"/>
<circle cx="504.50" cy="67.84" r="1.15" fill="#c4c4c4" stroke="#000" stroke-width="1.0"/>
<circle cx="508.50" cy="68.64" r="1.15" fill="#c4c4c4" stroke="#000" stroke-width="1.0"/>
<circle cx="510.90" cy="69.62" r="1.15" fill="#c4c4c4" stroke="#000" stroke-width="1.0"/>
<circle cx="506.10" cy="69.94" r="1.15" fill="#c4c4c4" stroke="#000" stroke-width="1.0"/>
<circle cx="508.50" cy="70.98" r="1.15" fill="#c4c4c4" stroke="#000" stroke-width="1.0"/>
<circle cx="510.90" cy="71.81" r="1.15" fill="#c4c4c4" stroke="#000" stroke-width="1.0"/>
<circle cx="506.10" cy="72.16" r="1.15" fill="#c4c4c4" stroke="#000" stroke-width="1.0"/>
<circle cx="508.02" cy="72.76" r="1.15" fill="#c4c4c4" stroke="#000" stroke-width="1.0"/>
<circle cx="512.50" cy="73.49" r="1.15" fill="#c4c4c4" stroke="#000" stroke-width="1.0"/>
<circle cx="510.10" cy="74.30" r="1.15" fill="#c4c4c4" stroke="#000" stroke-width="1.0"/>
<circle cx="507.70" cy="75.03" r="1.15" fill="#c4c4c4" stroke="#000" stroke-width="1.0"/>
<circle cx="505.30" cy="75.61" r="1.15" fill="#c4c4c4" stroke="#000" stroke-width="1.0"/>
<circle cx="510.90" cy="76.30" r="1.15" fill="#c4c4c4" stroke="#000" stroke-width="1.0"/>
<circle cx="506.33" cy="76.59" r="1.15" fill="#c4c4c4" stroke="#000" stroke-width="1.0"/>
<circle cx="508.50" cy="77.31" r="1.15" fill="#c4c4c4" stroke="#000" stroke-width="1.0"/>
<circle cx="512.50" cy="78.05" r="1.15" fill="#c4c4c4" stroke="#000" stroke-width="1.0"/>
<circle cx="510.10" cy="79.06" r="1.15" fill="#c4c4c4" stroke="#000" stroke-width="1.0"/>
<circle cx="507.70" cy="79.43" r="1.15" fill="#c4c4c4" stroke="#000" stroke-width="1.0"/>
<circle cx="505.30" cy="80.28" r="1.15" fill="#c4c4c4" stroke="#000" stroke-width="1.0"/>
<circle cx="511.70" cy="80.58" r="1.15" fill="#c4c4c4" stroke="#000" stroke-width="1.0"/>
<circle cx="509.30" cy="81.29" r="1.15" fill="#c4c4c4" stroke="#000" stroke-width="1.0"/>
<circle cx="506.90" cy="82.10" r="1.15" fill="#c4c4c4" stroke="#000" stroke-width="1.0"/>
<circle cx="510.90" cy="83.05" r="1.15" fill="#c4c4c4" stroke="#000" stroke-width="1.0"/>
<circle cx="508.50" cy="83.73" r="1.15" fill="#c4c4c4" stroke="#000" stroke-width="1.0"/>
<circle cx="506.10" cy="84.40" r="1.15" fill="#c4c4c4" stroke="#000" stroke-width="1.0"/>
<circle cx="512.50" cy="84.81" r="1.15" fill="#c4c4c4" stroke="#000" stroke-width="1.0"/>
<circle cx="510.10" cy="85.64" r="1.15" fill="#c4c4c4" stroke="#000" stroke-width="1.0"/>
<circle cx="507.70" cy="86.27" r="1.15" fill="#c4c4c4" stroke="#000" stroke-width="1.0"/>
<circle cx="505.30" cy="86.95" r="1.15" fill="#c4c4c4" stroke="#000" stroke-width="1.0"/>
<circle cx="511.70" cy="87.39" r="1.15" fill="#c4c4c4" stroke="#000" stroke-width="1.0"/>
<circle cx="508.50" cy="88.58" r="1.15" fill="#c4c4c4" stroke="#000" stroke-width="1.0"/>
<circle cx="505.77" cy="88.79" r="1.15" fill="#c4c4c4" stroke="#000" stroke-width="1.0"/>
<circle cx="510.10" cy="89.99" r="1.15" fill="#c4c4c4" stroke="#000" stroke-width="1.0"/>
<circle cx="508.50" cy="95.33" r="1.15" fill="#c4c4c4" stroke="#000" stroke-width="1.0"/>
<circle cx="510.90" cy="95.48" r="1.15" fill="#c4c4c4" stroke="#000" stroke-width="1.0"/>
<circle cx="508.50" cy="98.15" r="1.15" fill="#c4c4c4" stroke="#000" stroke-width="1.0"/>
<circle cx="508.50" cy="100.67" r="1.15" fill="#c4c4c4" stroke="#000" stroke-width="1.0"/>
<circle cx="511.30" cy="42.60" r="1.15" fill="#c4c4c4" stroke="#000" stroke-width="1.0"/>
<circle cx="507.60" cy="44.90" r="1.15" fill="#c4c4c4" stroke="#000" stroke-width="1.0"/>
<line x1="398.60" y1="110.80" x2="398.60" y2="114.00" stroke="#000" stroke-width="1.1"/>
<line x1="420.60" y1="110.80" x2="420.60" y2="114.00" stroke="#000" stroke-width="1.1"/>
<line x1="442.50" y1="110.80" x2="442.50" y2="114.00" stroke="#000" stroke-width="1.1"/>
<line x1="464.50" y1="110.80" x2="464.50" y2="114.00" stroke="#000" stroke-width="1.1"/>
<line x1="486.50" y1="110.80" x2="486.50" y2="114.00" stroke="#000" stroke-width="1.1"/>
<line x1="508.50" y1="110.80" x2="508.50" y2="114.00" stroke="#000" stroke-width="1.1"/>
<circle cx="485.55" cy="36.80" r="1.1" fill="#111"/>
<circle cx="488.30" cy="36.80" r="1.1" fill="#111"/>
<circle cx="491.05" cy="36.80" r="1.1" fill="#111"/>
<circle cx="506.75" cy="26.70" r="1.1" fill="#111"/>
<circle cx="509.50" cy="26.70" r="1.1" fill="#111"/>
<circle cx="512.25" cy="26.70" r="1.1" fill="#111"/>
<text x="0.00" y="0.00" font-size="7.7" text-anchor="end" fill="#000" transform="translate(401.70,116.00) rotate(-90)">WT</text>
<text x="0.00" y="0.00" font-size="7.7" text-anchor="end" fill="#000" transform="translate(423.70,116.00) rotate(-90)">WT + LY294002</text>
<text x="0.00" y="0.00" font-size="7.7" text-anchor="end" fill="#000" transform="translate(445.60,116.00) rotate(-90)">p110<tspan dy="1.4" font-size="6">&#948;</tspan><tspan dy="-4.0" font-size="4.7">D910A</tspan></text>
<text x="0.00" y="0.00" font-size="7.7" text-anchor="end" fill="#000" transform="translate(467.60,116.00) rotate(-90)">p110<tspan dy="1.4" font-size="6">&#947;</tspan><tspan dy="-4.0" font-size="4.7">-/-</tspan></text>
<text x="0.00" y="0.00" font-size="7.7" text-anchor="end" fill="#000" transform="translate(489.60,116.00) rotate(-90)">CD28<tspan dy="-2.7" font-size="4.7">-/-</tspan></text>
<text x="0.00" y="0.00" font-size="7.7" text-anchor="end" fill="#000" transform="translate(511.60,116.00) rotate(-90)">CD28<tspan dy="-2.7" font-size="4.7">Y170F</tspan></text>
<line x1="45.30" y1="197.10" x2="45.30" y2="272.30" stroke="#000" stroke-width="1.3"/>
<line x1="44.70" y1="271.70" x2="118.90" y2="271.70" stroke="#000" stroke-width="1.3"/>
<rect x="45.30" y="200.30" width="35.76" height="12.30" fill="#fff" stroke="#000" stroke-width="1.3"/>
<line x1="81.06" y1="206.45" x2="84.87" y2="206.45" stroke="#000" stroke-width="1.2"/>
<line x1="84.87" y1="203.25" x2="84.87" y2="209.65" stroke="#000" stroke-width="1.2"/>
<line x1="42.50" y1="206.45" x2="45.30" y2="206.45" stroke="#000" stroke-width="1.1"/>
<text x="40.80" y="209.05" font-size="7.6" text-anchor="end" fill="#000">WT</text>
<rect x="45.30" y="219.20" width="34.88" height="12.20" fill="#fff" stroke="#000" stroke-width="1.3"/>
<line x1="80.18" y1="225.30" x2="84.87" y2="225.30" stroke="#000" stroke-width="1.2"/>
<line x1="84.87" y1="222.10" x2="84.87" y2="228.50" stroke="#000" stroke-width="1.2"/>
<line x1="42.50" y1="225.30" x2="45.30" y2="225.30" stroke="#000" stroke-width="1.1"/>
<text x="40.80" y="227.90" font-size="7.6" text-anchor="end" fill="#000">p110<tspan dy="1.4" font-size="6">&#948;</tspan><tspan dy="-4.3" font-size="5.6">D910A</tspan></text>
<rect x="45.30" y="238.10" width="56.18" height="12.20" fill="#fff" stroke="#000" stroke-width="1.3"/>
<line x1="101.48" y1="244.20" x2="107.14" y2="244.20" stroke="#000" stroke-width="1.2"/>
<line x1="107.14" y1="241.00" x2="107.14" y2="247.40" stroke="#000" stroke-width="1.2"/>
<line x1="42.50" y1="244.20" x2="45.30" y2="244.20" stroke="#000" stroke-width="1.1"/>
<text x="40.80" y="246.80" font-size="7.6" text-anchor="end" fill="#000">CD28<tspan dy="-2.8" font-size="5.4">-/-</tspan></text>
<rect x="45.30" y="256.60" width="65.07" height="11.70" fill="#fff" stroke="#000" stroke-width="1.3"/>
<line x1="110.37" y1="262.45" x2="117.89" y2="262.45" stroke="#000" stroke-width="1.2"/>
<line x1="117.89" y1="259.25" x2="117.89" y2="265.65" stroke="#000" stroke-width="1.2"/>
<line x1="42.50" y1="262.45" x2="45.30" y2="262.45" stroke="#000" stroke-width="1.1"/>
<text x="40.80" y="265.05" font-size="7.6" text-anchor="end" fill="#000">CD28<tspan dy="-2.8" font-size="5.6">Y170F</tspan></text>
<line x1="45.30" y1="271.70" x2="45.30" y2="275.00" stroke="#000" stroke-width="1.2"/>
<text x="45.30" y="283.00" font-size="7.4" text-anchor="middle" fill="#000">0.0</text>
<line x1="69.72" y1="271.70" x2="69.72" y2="275.00" stroke="#000" stroke-width="1.2"/>
<text x="69.72" y="283.00" font-size="7.4" text-anchor="middle" fill="#000">2.5</text>
<line x1="94.15" y1="271.70" x2="94.15" y2="275.00" stroke="#000" stroke-width="1.2"/>
<text x="94.15" y="283.00" font-size="7.4" text-anchor="middle" fill="#000">5.0</text>
<line x1="118.57" y1="271.70" x2="118.57" y2="275.00" stroke="#000" stroke-width="1.2"/>
<text x="118.57" y="283.00" font-size="7.4" text-anchor="middle" fill="#000">7.5</text>
<text x="73.40" y="297.20" font-size="7.6" text-anchor="middle" fill="#000">Area (&#956;m<tspan dy="-2.6" font-size="5">2</tspan><tspan dy="2.6">)</tspan></text>
<text x="113.70" y="249.40" font-size="10" text-anchor="middle" font-weight="bold" fill="#000">*</text>
<text x="126.80" y="268.30" font-size="10" text-anchor="middle" font-weight="bold" fill="#000" letter-spacing="0.4">**</text>
<text x="141.00" y="193.90" font-size="6.9" text-anchor="start" fill="#000">PKC&#952;</text>
<filter id="hb" x="-50%" y="-50%" width="200%" height="200%"><feGaussianBlur stdDeviation="0.9"/></filter>
<filter id="hb2" x="-50%" y="-50%" width="200%" height="200%"><feGaussianBlur stdDeviation="0.6"/></filter>
<clipPath id="h0"><rect x="139.7" y="198.2" width="19.0" height="16.8"/></clipPath>
<g clip-path="url(#h0)">
<rect x="139.7" y="198.2" width="19.0" height="16.8" fill="#3a18b0"/>
<ellipse cx="148.5" cy="206.5" rx="6.0" ry="8.0" transform="rotate(10 148.5 206.5)" fill="#38d0f0" filter="url(#hb)"/>
<ellipse cx="145.5" cy="202.0" rx="2.5" ry="2.5" transform="rotate(0 145.5 202.0)" fill="#38d0f0" filter="url(#hb)"/>
<ellipse cx="149.2" cy="207.0" rx="4.2" ry="5.6" transform="rotate(10 149.2 207.0)" fill="#90f060" filter="url(#hb)"/>
<ellipse cx="149.3" cy="207.2" rx="3.2" ry="4.2" transform="rotate(0 149.3 207.2)" fill="#f4e020" filter="url(#hb)"/>
<ellipse cx="149.3" cy="207.0" rx="2.4" ry="3.2" transform="rotate(0 149.3 207.0)" fill="#f02818" filter="url(#hb2)"/>
</g>
<clipPath id="h1"><rect x="139.7" y="216.0" width="19.0" height="16.6"/></clipPath>
<g clip-path="url(#h1)">
<rect x="139.7" y="216.0" width="19.0" height="16.6" fill="#3a18b0"/>
<ellipse cx="148.8" cy="224.2" rx="6.0" ry="7.8" transform="rotate(0 148.8 224.2)" fill="#38d0f0" filter="url(#hb)"/>
<ellipse cx="146.0" cy="229.0" rx="3" ry="2.5" transform="rotate(0 146.0 229.0)" fill="#38d0f0" filter="url(#hb)"/>
<ellipse cx="149.2" cy="224.4" rx="4.3" ry="5.4" transform="rotate(0 149.2 224.4)" fill="#90f060" filter="url(#hb)"/>
<ellipse cx="149.3" cy="224.4" rx="3.2" ry="4.0" transform="rotate(0 149.3 224.4)" fill="#f4e020" filter="url(#hb)"/>
<ellipse cx="149.3" cy="224.4" rx="2.4" ry="2.8" transform="rotate(0 149.3 224.4)" fill="#f02818" filter="url(#hb2)"/>
</g>
<clipPath id="h2"><rect x="139.7" y="235.0" width="19.0" height="18.0"/></clipPath>
<g clip-path="url(#h2)">
<rect x="139.7" y="235.0" width="19.0" height="18.0" fill="#3a18b0"/>
<ellipse cx="149.3" cy="244.0" rx="7.4" ry="10.0" transform="rotate(-35 149.3 244.0)" fill="#38d0f0" filter="url(#hb)"/>
<ellipse cx="149.3" cy="244.3" rx="6.2" ry="8.6" transform="rotate(-35 149.3 244.3)" fill="#90f060" filter="url(#hb)"/>
<ellipse cx="149.3" cy="244.6" rx="5.0" ry="7.0" transform="rotate(-35 149.3 244.6)" fill="#f4e020" filter="url(#hb)"/>
<ellipse cx="149.0" cy="245.0" rx="3.6" ry="5.2" transform="rotate(-35 149.0 245.0)" fill="#f88018" filter="url(#hb)"/>
<ellipse cx="147.3" cy="242.3" rx="2.0" ry="2.0" transform="rotate(0 147.3 242.3)" fill="#f02818" filter="url(#hb2)"/>
<ellipse cx="149.2" cy="246.2" rx="2.0" ry="2.0" transform="rotate(0 149.2 246.2)" fill="#f02818" filter="url(#hb2)"/>
<ellipse cx="153.2" cy="247.4" rx="1.7" ry="1.6" transform="rotate(0 153.2 247.4)" fill="#f02818" filter="url(#hb2)"/>
<ellipse cx="146.6" cy="247.6" rx="1.5" ry="1.5" transform="rotate(0 146.6 247.6)" fill="#f02818" filter="url(#hb2)"/>
<ellipse cx="151.5" cy="243.5" rx="1.3" ry="1.3" transform="rotate(0 151.5 243.5)" fill="#f02818" filter="url(#hb2)"/>
</g>
<clipPath id="h3"><rect x="139.7" y="253.9" width="19.0" height="16.3"/></clipPath>
<g clip-path="url(#h3)">
<rect x="139.7" y="253.9" width="19.0" height="16.3" fill="#3a18b0"/>
<ellipse cx="149.5" cy="262.5" rx="6.6" ry="8.6" transform="rotate(0 149.5 262.5)" fill="#38d0f0" filter="url(#hb)"/>
<ellipse cx="149.6" cy="263.0" rx="5.4" ry="7.2" transform="rotate(0 149.6 263.0)" fill="#90f060" filter="url(#hb)"/>
<ellipse cx="149.8" cy="263.0" rx="4.4" ry="6.0" transform="rotate(0 149.8 263.0)" fill="#f4e020" filter="url(#hb)"/>
<ellipse cx="149.8" cy="263.0" rx="3.2" ry="4.6" transform="rotate(0 149.8 263.0)" fill="#f88018" filter="url(#hb)"/>
<ellipse cx="149.6" cy="261.6" rx="2.0" ry="2.0" transform="rotate(0 149.6 261.6)" fill="#f02818" filter="url(#hb2)"/>
<ellipse cx="150.3" cy="264.8" rx="2.1" ry="2.2" transform="rotate(0 150.3 264.8)" fill="#f02818" filter="url(#hb2)"/>
<ellipse cx="147.8" cy="263.5" rx="1.3" ry="1.5" transform="rotate(0 147.8 263.5)" fill="#f02818" filter="url(#hb2)"/>
</g>
<text x="0.00" y="0.00" font-size="8.05" text-anchor="middle" fill="#000" transform="translate(189.00,258.30) rotate(-90)">cells with nuclear localization</text>
<text x="0.00" y="0.00" font-size="8.05" text-anchor="middle" fill="#000" transform="translate(197.60,260.30) rotate(-90)">of p65/RelA (%)</text>
<line x1="216.00" y1="221.00" x2="216.00" y2="295.90" stroke="#000" stroke-width="1.3"/>
<line x1="215.40" y1="295.30" x2="327.20" y2="295.30" stroke="#000" stroke-width="1.3"/>
<line x1="213.20" y1="295.30" x2="216.00" y2="295.30" stroke="#000" stroke-width="1.1"/>
<text x="212.00" y="297.90" font-size="7.4" text-anchor="end" fill="#000">0</text>
<line x1="213.20" y1="284.76" x2="216.00" y2="284.76" stroke="#000" stroke-width="1.1"/>
<text x="212.00" y="287.36" font-size="7.4" text-anchor="end" fill="#000">10</text>
<line x1="213.20" y1="274.22" x2="216.00" y2="274.22" stroke="#000" stroke-width="1.1"/>
<text x="212.00" y="276.82" font-size="7.4" text-anchor="end" fill="#000">20</text>
<line x1="213.20" y1="263.68" x2="216.00" y2="263.68" stroke="#000" stroke-width="1.1"/>
<text x="212.00" y="266.28" font-size="7.4" text-anchor="end" fill="#000">30</text>
<line x1="213.20" y1="253.14" x2="216.00" y2="253.14" stroke="#000" stroke-width="1.1"/>
<text x="212.00" y="255.74" font-size="7.4" text-anchor="end" fill="#000">40</text>
<line x1="213.20" y1="242.60" x2="216.00" y2="242.60" stroke="#000" stroke-width="1.1"/>
<text x="212.00" y="245.20" font-size="7.4" text-anchor="end" fill="#000">50</text>
<line x1="213.20" y1="232.06" x2="216.00" y2="232.06" stroke="#000" stroke-width="1.1"/>
<text x="212.00" y="234.66" font-size="7.4" text-anchor="end" fill="#000">60</text>
<line x1="213.20" y1="221.52" x2="216.00" y2="221.52" stroke="#000" stroke-width="1.1"/>
<text x="212.00" y="224.12" font-size="7.4" text-anchor="end" fill="#000">70</text>
<line x1="229.60" y1="295.30" x2="229.60" y2="298.60" stroke="#000" stroke-width="1.2"/>
<text x="229.60" y="305.60" font-size="7.4" text-anchor="middle" fill="#000">0</text>
<line x1="257.40" y1="295.30" x2="257.40" y2="298.60" stroke="#000" stroke-width="1.2"/>
<text x="257.40" y="305.60" font-size="7.4" text-anchor="middle" fill="#000">0.1</text>
<line x1="285.00" y1="295.30" x2="285.00" y2="298.60" stroke="#000" stroke-width="1.2"/>
<text x="285.00" y="305.60" font-size="7.4" text-anchor="middle" fill="#000">1</text>
<line x1="312.60" y1="295.30" x2="312.60" y2="298.60" stroke="#000" stroke-width="1.2"/>
<text x="312.60" y="305.60" font-size="7.4" text-anchor="middle" fill="#000">10</text>
<text x="271.30" y="319.20" font-size="7.8" text-anchor="middle" fill="#000" letter-spacing="0.3">OVA (&#956;M)</text>
<path d="M229.60,284.97 L257.40,251.88 L285.00,244.92 L312.60,233.54" fill="none" stroke="#000000" stroke-width="1.8"/>
<line x1="229.60" y1="282.86" x2="229.60" y2="287.08" stroke="#000000" stroke-width="1.2"/>
<line x1="227.40" y1="282.86" x2="231.80" y2="282.86" stroke="#000000" stroke-width="1.2"/>
<line x1="227.40" y1="287.08" x2="231.80" y2="287.08" stroke="#000000" stroke-width="1.2"/>
<rect x="227.76" y="283.13" width="3.68" height="3.68" fill="#000000"/>
<line x1="257.40" y1="246.61" x2="257.40" y2="257.15" stroke="#000000" stroke-width="1.2"/>
<line x1="255.20" y1="246.61" x2="259.60" y2="246.61" stroke="#000000" stroke-width="1.2"/>
<line x1="255.20" y1="257.15" x2="259.60" y2="257.15" stroke="#000000" stroke-width="1.2"/>
<rect x="255.56" y="250.04" width="3.68" height="3.68" fill="#000000"/>
<line x1="285.00" y1="242.81" x2="285.00" y2="247.03" stroke="#000000" stroke-width="1.2"/>
<line x1="282.80" y1="242.81" x2="287.20" y2="242.81" stroke="#000000" stroke-width="1.2"/>
<line x1="282.80" y1="247.03" x2="287.20" y2="247.03" stroke="#000000" stroke-width="1.2"/>
<rect x="283.16" y="243.08" width="3.68" height="3.68" fill="#000000"/>
<line x1="312.60" y1="230.37" x2="312.60" y2="236.70" stroke="#000000" stroke-width="1.2"/>
<line x1="310.40" y1="230.37" x2="314.80" y2="230.37" stroke="#000000" stroke-width="1.2"/>
<line x1="310.40" y1="236.70" x2="314.80" y2="236.70" stroke="#000000" stroke-width="1.2"/>
<rect x="310.76" y="231.70" width="3.68" height="3.68" fill="#000000"/>
<path d="M229.60,286.87 L257.40,264.73 L285.00,244.29 L312.60,246.92" fill="none" stroke="#e02020" stroke-width="1.8"/>
<line x1="229.60" y1="284.76" x2="229.60" y2="288.98" stroke="#e02020" stroke-width="1.2"/>
<line x1="227.40" y1="284.76" x2="231.80" y2="284.76" stroke="#e02020" stroke-width="1.2"/>
<line x1="227.40" y1="288.98" x2="231.80" y2="288.98" stroke="#e02020" stroke-width="1.2"/>
<path d="M229.60,289.17 L231.90,285.14 L227.30,285.14Z" fill="#e02020"/>
<line x1="257.40" y1="260.52" x2="257.40" y2="268.95" stroke="#e02020" stroke-width="1.2"/>
<line x1="255.20" y1="260.52" x2="259.60" y2="260.52" stroke="#e02020" stroke-width="1.2"/>
<line x1="255.20" y1="268.95" x2="259.60" y2="268.95" stroke="#e02020" stroke-width="1.2"/>
<path d="M257.40,267.03 L259.70,263.01 L255.10,263.01Z" fill="#e02020"/>
<line x1="285.00" y1="237.96" x2="285.00" y2="250.61" stroke="#e02020" stroke-width="1.2"/>
<line x1="282.80" y1="237.96" x2="287.20" y2="237.96" stroke="#e02020" stroke-width="1.2"/>
<line x1="282.80" y1="250.61" x2="287.20" y2="250.61" stroke="#e02020" stroke-width="1.2"/>
<path d="M285.00,246.59 L287.30,242.56 L282.70,242.56Z" fill="#e02020"/>
<line x1="312.60" y1="244.81" x2="312.60" y2="249.03" stroke="#e02020" stroke-width="1.2"/>
<line x1="310.40" y1="244.81" x2="314.80" y2="244.81" stroke="#e02020" stroke-width="1.2"/>
<line x1="310.40" y1="249.03" x2="314.80" y2="249.03" stroke="#e02020" stroke-width="1.2"/>
<path d="M312.60,249.22 L314.90,245.20 L310.30,245.20Z" fill="#e02020"/>
<path d="M229.60,283.92 L257.40,254.72 L285.00,244.08 L312.60,247.34" fill="none" stroke="#20c020" stroke-width="1.8"/>
<line x1="229.60" y1="281.81" x2="229.60" y2="286.02" stroke="#20c020" stroke-width="1.2"/>
<line x1="227.40" y1="281.81" x2="231.80" y2="281.81" stroke="#20c020" stroke-width="1.2"/>
<line x1="227.40" y1="286.02" x2="231.80" y2="286.02" stroke="#20c020" stroke-width="1.2"/>
<path d="M229.60,281.62 L231.90,285.64 L227.30,285.64Z" fill="#20c020"/>
<line x1="257.40" y1="247.34" x2="257.40" y2="262.10" stroke="#20c020" stroke-width="1.2"/>
<line x1="255.20" y1="247.34" x2="259.60" y2="247.34" stroke="#20c020" stroke-width="1.2"/>
<line x1="255.20" y1="262.10" x2="259.60" y2="262.10" stroke="#20c020" stroke-width="1.2"/>
<path d="M257.40,252.42 L259.70,256.45 L255.10,256.45Z" fill="#20c020"/>
<line x1="285.00" y1="239.86" x2="285.00" y2="248.29" stroke="#20c020" stroke-width="1.2"/>
<line x1="282.80" y1="239.86" x2="287.20" y2="239.86" stroke="#20c020" stroke-width="1.2"/>
<line x1="282.80" y1="248.29" x2="287.20" y2="248.29" stroke="#20c020" stroke-width="1.2"/>
<path d="M285.00,241.78 L287.30,245.80 L282.70,245.80Z" fill="#20c020"/>
<line x1="312.60" y1="238.91" x2="312.60" y2="255.78" stroke="#20c020" stroke-width="1.2"/>
<line x1="310.40" y1="238.91" x2="314.80" y2="238.91" stroke="#20c020" stroke-width="1.2"/>
<line x1="310.40" y1="255.78" x2="314.80" y2="255.78" stroke="#20c020" stroke-width="1.2"/>
<path d="M312.60,245.04 L314.90,249.07 L310.30,249.07Z" fill="#20c020"/>
<path d="M229.60,287.71 L257.40,268.95 L285.00,267.26 L312.60,271.06" fill="none" stroke="#1020c8" stroke-width="1.8"/>
<line x1="229.60" y1="285.60" x2="229.60" y2="289.82" stroke="#1020c8" stroke-width="1.2"/>
<line x1="227.40" y1="285.60" x2="231.80" y2="285.60" stroke="#1020c8" stroke-width="1.2"/>
<line x1="227.40" y1="289.82" x2="231.80" y2="289.82" stroke="#1020c8" stroke-width="1.2"/>
<path d="M229.60,285.41 L231.90,289.44 L227.30,289.44Z" fill="#1020c8"/>
<line x1="257.40" y1="264.73" x2="257.40" y2="273.17" stroke="#1020c8" stroke-width="1.2"/>
<line x1="255.20" y1="264.73" x2="259.60" y2="264.73" stroke="#1020c8" stroke-width="1.2"/>
<line x1="255.20" y1="273.17" x2="259.60" y2="273.17" stroke="#1020c8" stroke-width="1.2"/>
<path d="M257.40,266.65 L259.70,270.68 L255.10,270.68Z" fill="#1020c8"/>
<line x1="285.00" y1="263.05" x2="285.00" y2="271.48" stroke="#1020c8" stroke-width="1.2"/>
<line x1="282.80" y1="263.05" x2="287.20" y2="263.05" stroke="#1020c8" stroke-width="1.2"/>
<line x1="282.80" y1="271.48" x2="287.20" y2="271.48" stroke="#1020c8" stroke-width="1.2"/>
<path d="M285.00,264.96 L287.30,268.99 L282.70,268.99Z" fill="#1020c8"/>
<line x1="312.60" y1="264.73" x2="312.60" y2="277.38" stroke="#1020c8" stroke-width="1.2"/>
<line x1="310.40" y1="264.73" x2="314.80" y2="264.73" stroke="#1020c8" stroke-width="1.2"/>
<line x1="310.40" y1="277.38" x2="314.80" y2="277.38" stroke="#1020c8" stroke-width="1.2"/>
<path d="M312.60,268.76 L314.90,272.78 L310.30,272.78Z" fill="#1020c8"/>
<path d="M229.60,292.14 L257.40,282.12 L285.00,264.21 L312.60,266.31" fill="none" stroke="#901848" stroke-width="1.8"/>
<line x1="229.60" y1="290.03" x2="229.60" y2="294.25" stroke="#901848" stroke-width="1.2"/>
<line x1="227.40" y1="290.03" x2="231.80" y2="290.03" stroke="#901848" stroke-width="1.2"/>
<line x1="227.40" y1="294.25" x2="231.80" y2="294.25" stroke="#901848" stroke-width="1.2"/>
<path d="M229.60,294.44 L231.90,290.41 L227.30,290.41Z" fill="#901848"/>
<line x1="257.40" y1="277.91" x2="257.40" y2="286.34" stroke="#901848" stroke-width="1.2"/>
<line x1="255.20" y1="277.91" x2="259.60" y2="277.91" stroke="#901848" stroke-width="1.2"/>
<line x1="255.20" y1="286.34" x2="259.60" y2="286.34" stroke="#901848" stroke-width="1.2"/>
<path d="M257.40,284.43 L259.70,280.40 L255.10,280.40Z" fill="#901848"/>
<line x1="285.00" y1="257.88" x2="285.00" y2="270.53" stroke="#901848" stroke-width="1.2"/>
<line x1="282.80" y1="257.88" x2="287.20" y2="257.88" stroke="#901848" stroke-width="1.2"/>
<line x1="282.80" y1="270.53" x2="287.20" y2="270.53" stroke="#901848" stroke-width="1.2"/>
<path d="M285.00,266.51 L287.30,262.48 L282.70,262.48Z" fill="#901848"/>
<line x1="312.60" y1="263.15" x2="312.60" y2="269.48" stroke="#901848" stroke-width="1.2"/>
<line x1="310.40" y1="263.15" x2="314.80" y2="263.15" stroke="#901848" stroke-width="1.2"/>
<line x1="310.40" y1="269.48" x2="314.80" y2="269.48" stroke="#901848" stroke-width="1.2"/>
<path d="M312.60,268.62 L314.90,264.59 L310.30,264.59Z" fill="#901848"/>
<line x1="220.00" y1="191.30" x2="236.60" y2="191.30" stroke="#000000" stroke-width="1.6"/>
<rect x="226.94" y="189.94" width="2.72" height="2.72" fill="#000000"/>
<text x="238.70" y="194.00" font-size="7.4" text-anchor="start" fill="#000">WT</text>
<line x1="220.00" y1="204.20" x2="236.60" y2="204.20" stroke="#e02020" stroke-width="1.6"/>
<path d="M228.30,205.90 L230.00,202.92 L226.60,202.92Z" fill="#e02020"/>
<text x="238.70" y="206.90" font-size="7.4" text-anchor="start" fill="#000">CD28<tspan dy="-2.3" font-size="4.6">Y170F</tspan></text>
<line x1="220.00" y1="216.90" x2="236.60" y2="216.90" stroke="#20c020" stroke-width="1.6"/>
<path d="M228.30,215.20 L230.00,218.18 L226.60,218.18Z" fill="#20c020"/>
<text x="238.70" y="219.60" font-size="7.4" text-anchor="start" fill="#000">CD28<tspan dy="-2.3" font-size="4.6">-/-</tspan></text>
<line x1="278.20" y1="204.20" x2="294.80" y2="204.20" stroke="#1020c8" stroke-width="1.6"/>
<path d="M286.50,202.50 L288.20,205.47 L284.80,205.47Z" fill="#1020c8"/>
<text x="296.90" y="206.90" font-size="7.4" text-anchor="start" fill="#000">CD28<tspan dy="-2.3" font-size="4.6">Y170F</tspan><tspan dy="2.3">+ IC87114</tspan></text>
<line x1="278.20" y1="216.90" x2="294.80" y2="216.90" stroke="#901848" stroke-width="1.6"/>
<path d="M286.50,218.60 L288.20,215.62 L284.80,215.62Z" fill="#901848"/>
<text x="296.90" y="219.60" font-size="7.4" text-anchor="start" fill="#000">CD28<tspan dy="-2.3" font-size="4.6">-/-</tspan><tspan dy="2.3">+ IC87114</tspan></text>
</svg>
</body></html>
